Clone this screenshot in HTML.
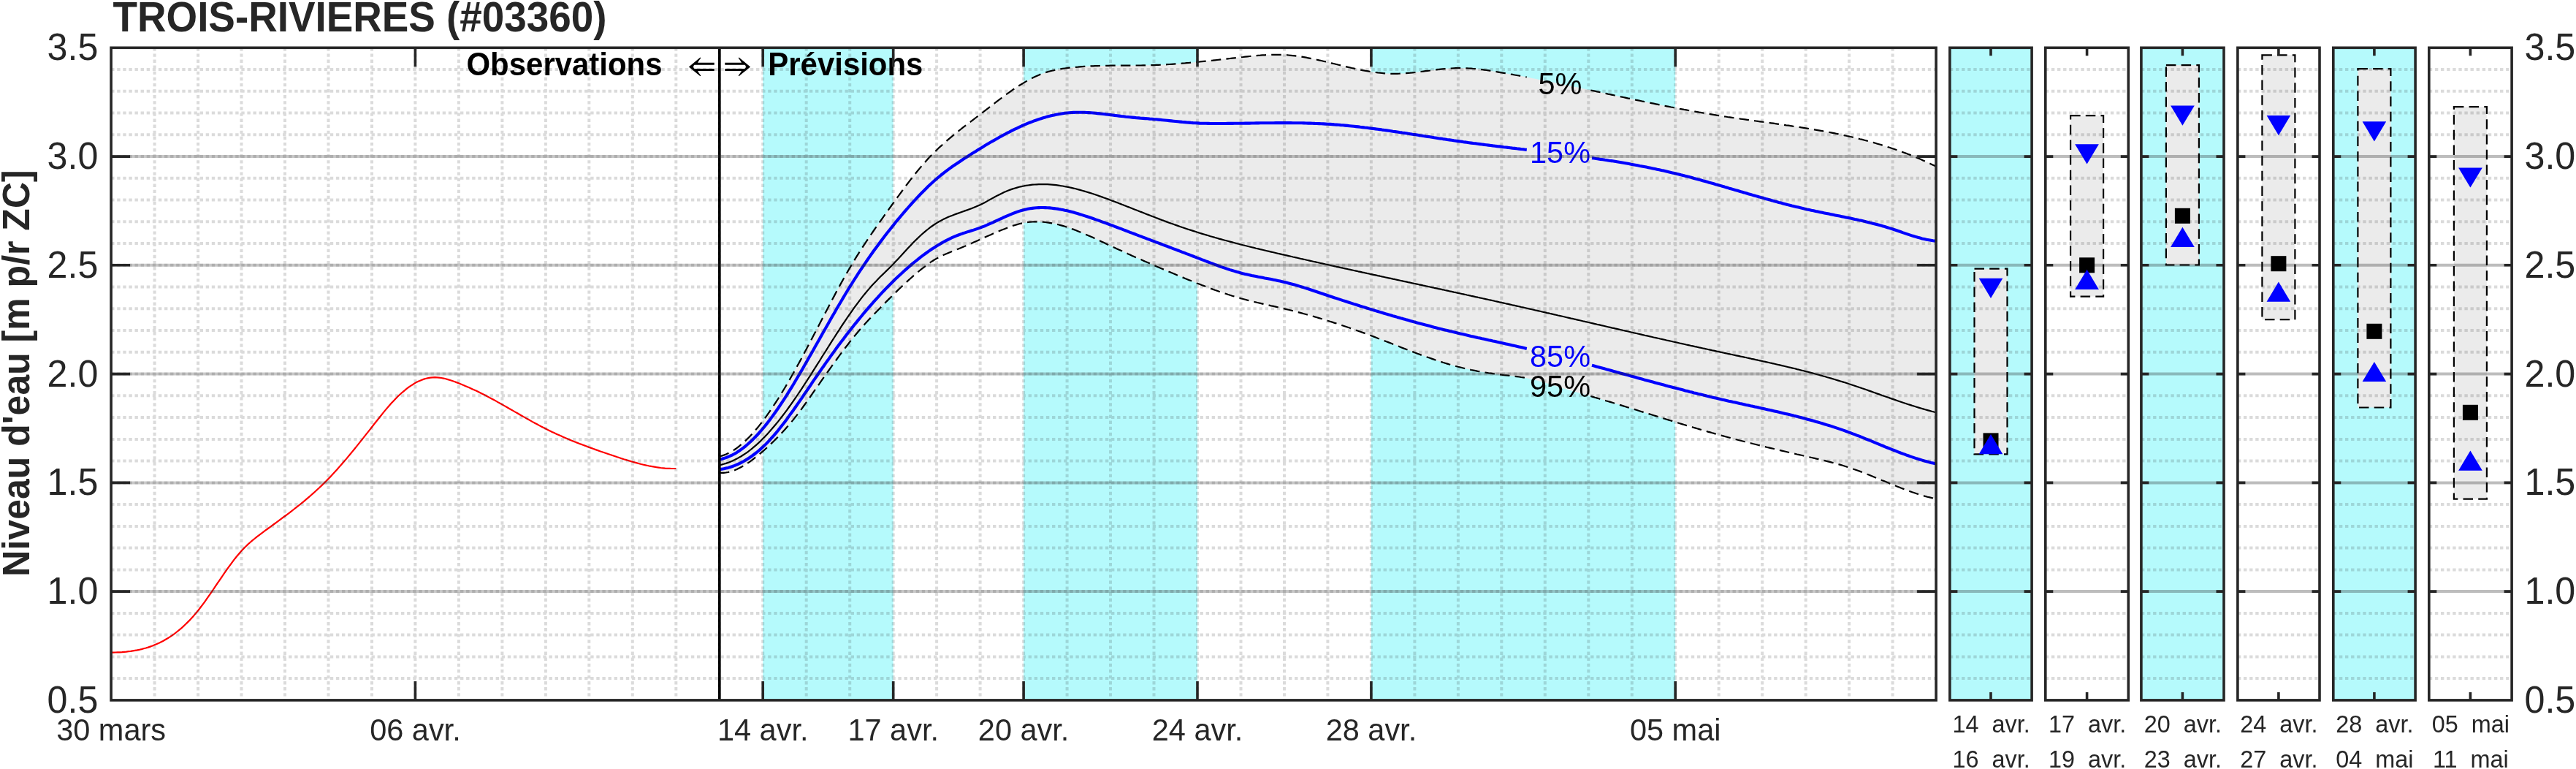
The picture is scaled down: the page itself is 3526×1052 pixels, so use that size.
<!DOCTYPE html><html><head><meta charset="utf-8"><title>TROIS-RIVIERES</title>
<style>html,body{margin:0;padding:0;background:#fff;overflow:hidden}svg{display:block;will-change:transform}text{font-family:"Liberation Sans",sans-serif}</style></head><body>
<svg width="3526" height="1052" viewBox="0 0 3526 1052">
<rect width="3526" height="1052" fill="#fff"/>
<rect x="1044.2" y="65.3" width="178.4" height="892.6" fill="#b5fafc"/>
<rect x="1401.1" y="65.3" width="237.9" height="892.6" fill="#b5fafc"/>
<rect x="1876.9" y="65.3" width="416.3" height="892.6" fill="#b5fafc"/>
<path d="M984.8,624.3 L987.7,623.6 L990.7,622.6 L993.7,621.5 L996.7,620.1 L999.6,618.6 L1002.6,616.9 L1005.6,615.0 L1008.6,612.9 L1011.5,610.6 L1014.5,608.2 L1017.5,605.7 L1020.4,602.9 L1023.4,600.0 L1026.4,597.0 L1029.4,593.8 L1032.3,590.5 L1035.3,587.0 L1038.3,583.4 L1041.3,579.6 L1044.2,575.8 L1047.2,571.8 L1050.2,567.7 L1053.2,563.4 L1056.1,559.1 L1059.1,554.7 L1062.1,550.1 L1065.1,545.5 L1068.0,540.7 L1071.0,535.9 L1074.0,531.0 L1077.0,525.9 L1079.9,520.9 L1082.9,515.7 L1085.9,510.5 L1088.8,505.1 L1091.8,499.8 L1094.8,494.4 L1097.8,488.9 L1100.7,483.3 L1103.7,477.7 L1106.7,472.1 L1109.7,466.5 L1112.6,460.8 L1115.6,455.1 L1118.6,449.3 L1121.6,443.6 L1124.5,437.9 L1127.5,432.1 L1130.5,426.4 L1133.5,420.7 L1136.4,415.1 L1139.4,409.4 L1142.4,403.9 L1145.3,398.3 L1148.3,392.8 L1151.3,387.4 L1154.3,382.0 L1157.2,376.8 L1160.2,371.6 L1163.2,366.5 L1166.2,361.4 L1169.1,356.5 L1172.1,351.7 L1175.1,346.9 L1178.1,342.3 L1181.0,337.7 L1184.0,333.1 L1187.0,328.6 L1190.0,324.2 L1192.9,319.8 L1195.9,315.5 L1198.9,311.2 L1201.9,307.0 L1204.8,302.8 L1207.8,298.6 L1210.8,294.4 L1213.7,290.3 L1216.7,286.1 L1219.7,282.0 L1222.7,277.9 L1225.6,273.7 L1228.6,269.6 L1231.6,265.6 L1234.6,261.5 L1237.5,257.5 L1240.5,253.5 L1243.5,249.6 L1246.5,245.7 L1249.4,241.9 L1252.4,238.2 L1255.4,234.5 L1258.4,230.9 L1261.3,227.4 L1264.3,223.9 L1267.3,220.6 L1270.2,217.3 L1273.2,214.1 L1276.2,211.1 L1279.2,208.1 L1282.1,205.2 L1285.1,202.3 L1288.1,199.6 L1291.1,196.9 L1294.0,194.2 L1297.0,191.6 L1300.0,189.1 L1303.0,186.6 L1305.9,184.2 L1308.9,181.7 L1311.9,179.4 L1314.9,177.0 L1317.8,174.7 L1320.8,172.4 L1323.8,170.1 L1326.8,167.8 L1329.7,165.6 L1332.7,163.3 L1335.7,161.0 L1338.6,158.8 L1341.6,156.5 L1344.6,154.2 L1347.6,151.9 L1350.5,149.6 L1353.5,147.3 L1356.5,145.0 L1359.5,142.7 L1362.4,140.4 L1365.4,138.1 L1368.4,135.8 L1371.4,133.6 L1374.3,131.4 L1377.3,129.2 L1380.3,127.1 L1383.3,125.0 L1386.2,122.9 L1389.2,120.9 L1392.2,118.9 L1395.1,117.0 L1398.1,115.2 L1401.1,113.4 L1404.1,111.6 L1407.0,109.9 L1410.0,108.3 L1413.0,106.8 L1416.0,105.3 L1418.9,104.0 L1421.9,102.7 L1424.9,101.4 L1427.9,100.3 L1430.8,99.3 L1433.8,98.4 L1436.8,97.5 L1439.8,96.7 L1442.7,96.1 L1445.7,95.4 L1448.7,94.9 L1451.7,94.4 L1454.6,93.9 L1457.6,93.5 L1460.6,93.1 L1463.5,92.7 L1466.5,92.4 L1469.5,92.1 L1472.5,91.8 L1475.4,91.6 L1478.4,91.3 L1481.4,91.1 L1484.4,90.9 L1487.3,90.7 L1490.3,90.6 L1493.3,90.4 L1496.3,90.3 L1499.2,90.2 L1502.2,90.1 L1505.2,90.0 L1508.2,89.9 L1511.1,89.9 L1514.1,89.8 L1517.1,89.8 L1520.0,89.7 L1523.0,89.7 L1526.0,89.7 L1529.0,89.7 L1531.9,89.6 L1534.9,89.6 L1537.9,89.6 L1540.9,89.6 L1543.8,89.6 L1546.8,89.6 L1549.8,89.6 L1552.8,89.5 L1555.7,89.5 L1558.7,89.5 L1561.7,89.5 L1564.7,89.4 L1567.6,89.4 L1570.6,89.3 L1573.6,89.2 L1576.6,89.1 L1579.5,89.1 L1582.5,88.9 L1585.5,88.8 L1588.4,88.7 L1591.4,88.5 L1594.4,88.4 L1597.4,88.2 L1600.3,88.0 L1603.3,87.8 L1606.3,87.6 L1609.3,87.4 L1612.2,87.2 L1615.2,87.0 L1618.2,86.7 L1621.2,86.5 L1624.1,86.2 L1627.1,86.0 L1630.1,85.7 L1633.1,85.4 L1636.0,85.1 L1639.0,84.8 L1642.0,84.5 L1644.9,84.2 L1647.9,83.9 L1650.9,83.6 L1653.9,83.3 L1656.8,83.0 L1659.8,82.7 L1662.8,82.3 L1665.8,82.0 L1668.7,81.7 L1671.7,81.3 L1674.7,81.0 L1677.7,80.7 L1680.6,80.3 L1683.6,80.0 L1686.6,79.6 L1689.6,79.3 L1692.5,79.0 L1695.5,78.6 L1698.5,78.3 L1701.4,78.0 L1704.4,77.6 L1707.4,77.3 L1710.4,77.0 L1713.3,76.7 L1716.3,76.4 L1719.3,76.1 L1722.3,75.9 L1725.2,75.7 L1728.2,75.4 L1731.2,75.3 L1734.2,75.1 L1737.1,75.0 L1740.1,74.9 L1743.1,74.8 L1746.1,74.8 L1749.0,74.8 L1752.0,74.8 L1755.0,74.9 L1758.0,75.1 L1760.9,75.2 L1763.9,75.5 L1766.9,75.8 L1769.8,76.1 L1772.8,76.4 L1775.8,76.8 L1778.8,77.2 L1781.7,77.7 L1784.7,78.2 L1787.7,78.7 L1790.7,79.3 L1793.6,79.9 L1796.6,80.5 L1799.6,81.1 L1802.6,81.7 L1805.5,82.4 L1808.5,83.0 L1811.5,83.7 L1814.5,84.4 L1817.4,85.1 L1820.4,85.9 L1823.4,86.6 L1826.3,87.3 L1829.3,88.0 L1832.3,88.8 L1835.3,89.5 L1838.2,90.2 L1841.2,90.9 L1844.2,91.6 L1847.2,92.3 L1850.1,93.0 L1853.1,93.6 L1856.1,94.3 L1859.1,94.9 L1862.0,95.5 L1865.0,96.1 L1868.0,96.7 L1871.0,97.2 L1873.9,97.7 L1876.9,98.2 L1879.9,98.6 L1882.9,99.0 L1885.8,99.4 L1888.8,99.7 L1891.8,100.0 L1894.7,100.3 L1897.7,100.5 L1900.7,100.6 L1903.7,100.8 L1906.6,100.8 L1909.6,100.8 L1912.6,100.8 L1915.6,100.7 L1918.5,100.5 L1921.5,100.4 L1924.5,100.2 L1927.5,99.9 L1930.4,99.7 L1933.4,99.4 L1936.4,99.0 L1939.4,98.7 L1942.3,98.3 L1945.3,98.0 L1948.3,97.6 L1951.2,97.2 L1954.2,96.8 L1957.2,96.5 L1960.2,96.1 L1963.1,95.7 L1966.1,95.4 L1969.1,95.0 L1972.1,94.7 L1975.0,94.4 L1978.0,94.1 L1981.0,93.9 L1984.0,93.6 L1986.9,93.5 L1989.9,93.3 L1992.9,93.2 L1995.9,93.1 L1998.8,93.1 L2001.8,93.2 L2004.8,93.3 L2007.8,93.4 L2010.7,93.5 L2013.7,93.7 L2016.7,94.0 L2019.6,94.2 L2022.6,94.5 L2025.6,94.9 L2028.6,95.2 L2031.5,95.6 L2034.5,96.0 L2037.5,96.4 L2040.5,96.9 L2043.4,97.4 L2046.4,97.8 L2049.4,98.3 L2052.4,98.8 L2055.3,99.3 L2058.3,99.8 L2061.3,100.3 L2064.3,100.9 L2067.2,101.4 L2070.2,101.9 L2073.2,102.5 L2076.1,103.0 L2079.1,103.5 L2082.1,104.1 L2085.1,104.6 L2088.0,105.2 L2091.0,105.8 L2094.0,106.3 L2097.0,106.9 L2099.9,107.5 L2102.9,108.1 L2105.9,108.7 L2108.9,109.2 L2111.8,109.8 L2114.8,110.4 L2117.8,111.0 L2120.8,111.6 L2123.7,112.2 L2126.7,112.8 L2129.7,113.4 L2132.7,114.0 L2135.6,114.7 L2138.6,115.3 L2141.6,115.9 L2144.5,116.5 L2147.5,117.1 L2150.5,117.8 L2153.5,118.4 L2156.4,119.0 L2159.4,119.6 L2162.4,120.3 L2165.4,120.9 L2168.3,121.5 L2171.3,122.2 L2174.3,122.8 L2177.3,123.5 L2180.2,124.1 L2183.2,124.7 L2186.2,125.4 L2189.2,126.0 L2192.1,126.6 L2195.1,127.3 L2198.1,127.9 L2201.0,128.6 L2204.0,129.2 L2207.0,129.8 L2210.0,130.5 L2212.9,131.1 L2215.9,131.7 L2218.9,132.4 L2221.9,133.0 L2224.8,133.6 L2227.8,134.3 L2230.8,134.9 L2233.8,135.5 L2236.7,136.2 L2239.7,136.8 L2242.7,137.4 L2245.7,138.0 L2248.6,138.7 L2251.6,139.3 L2254.6,139.9 L2257.6,140.5 L2260.5,141.1 L2263.5,141.7 L2266.5,142.3 L2269.4,142.9 L2272.4,143.5 L2275.4,144.1 L2278.4,144.7 L2281.3,145.3 L2284.3,145.9 L2287.3,146.5 L2290.3,147.0 L2293.2,147.6 L2296.2,148.2 L2299.2,148.8 L2302.2,149.3 L2305.1,149.9 L2308.1,150.4 L2311.1,151.0 L2314.1,151.5 L2317.0,152.1 L2320.0,152.6 L2323.0,153.1 L2325.9,153.7 L2328.9,154.2 L2331.9,154.7 L2334.9,155.2 L2337.8,155.7 L2340.8,156.2 L2343.8,156.7 L2346.8,157.2 L2349.7,157.7 L2352.7,158.1 L2355.7,158.6 L2358.7,159.1 L2361.6,159.5 L2364.6,160.0 L2367.6,160.4 L2370.6,160.8 L2373.5,161.3 L2376.5,161.7 L2379.5,162.1 L2382.5,162.6 L2385.4,163.0 L2388.4,163.4 L2391.4,163.8 L2394.3,164.2 L2397.3,164.6 L2400.3,165.1 L2403.3,165.5 L2406.2,165.9 L2409.2,166.3 L2412.2,166.7 L2415.2,167.1 L2418.1,167.5 L2421.1,167.9 L2424.1,168.3 L2427.1,168.7 L2430.0,169.2 L2433.0,169.6 L2436.0,170.0 L2439.0,170.4 L2441.9,170.8 L2444.9,171.3 L2447.9,171.7 L2450.8,172.1 L2453.8,172.6 L2456.8,173.0 L2459.8,173.5 L2462.7,173.9 L2465.7,174.4 L2468.7,174.8 L2471.7,175.3 L2474.6,175.8 L2477.6,176.3 L2480.6,176.8 L2483.6,177.3 L2486.5,177.8 L2489.5,178.3 L2492.5,178.8 L2495.5,179.4 L2498.4,179.9 L2501.4,180.5 L2504.4,181.0 L2507.3,181.6 L2510.3,182.2 L2513.3,182.8 L2516.3,183.4 L2519.2,184.0 L2522.2,184.7 L2525.2,185.3 L2528.2,186.0 L2531.1,186.6 L2534.1,187.3 L2537.1,188.0 L2540.1,188.7 L2543.0,189.4 L2546.0,190.2 L2549.0,190.9 L2552.0,191.7 L2554.9,192.5 L2557.9,193.3 L2560.9,194.1 L2563.9,194.9 L2566.8,195.8 L2569.8,196.7 L2572.8,197.5 L2575.7,198.4 L2578.7,199.4 L2581.7,200.3 L2584.7,201.3 L2587.6,202.2 L2590.6,203.2 L2593.6,204.2 L2596.6,205.3 L2599.5,206.3 L2602.5,207.4 L2605.5,208.5 L2608.5,209.6 L2611.4,210.8 L2614.4,211.9 L2617.4,213.1 L2620.4,214.3 L2623.3,215.6 L2626.3,216.8 L2629.3,218.1 L2632.2,219.4 L2635.2,220.7 L2638.2,222.1 L2641.2,223.5 L2644.1,224.9 L2647.1,226.3 L2650.1,227.7 L2650.1,682.4 L2647.1,681.8 L2644.1,681.1 L2641.2,680.4 L2638.2,679.7 L2635.2,678.9 L2632.2,678.0 L2629.3,677.1 L2626.3,676.2 L2623.3,675.3 L2620.4,674.3 L2617.4,673.3 L2614.4,672.2 L2611.4,671.1 L2608.5,670.0 L2605.5,668.9 L2602.5,667.8 L2599.5,666.6 L2596.6,665.4 L2593.6,664.2 L2590.6,663.0 L2587.6,661.8 L2584.7,660.6 L2581.7,659.3 L2578.7,658.1 L2575.7,656.9 L2572.8,655.6 L2569.8,654.4 L2566.8,653.2 L2563.9,652.0 L2560.9,650.8 L2557.9,649.6 L2554.9,648.4 L2552.0,647.2 L2549.0,646.0 L2546.0,644.9 L2543.0,643.8 L2540.1,642.7 L2537.1,641.7 L2534.1,640.6 L2531.1,639.6 L2528.2,638.7 L2525.2,637.7 L2522.2,636.8 L2519.2,635.9 L2516.3,635.1 L2513.3,634.2 L2510.3,633.4 L2507.3,632.6 L2504.4,631.9 L2501.4,631.1 L2498.4,630.4 L2495.5,629.7 L2492.5,628.9 L2489.5,628.2 L2486.5,627.6 L2483.6,626.9 L2480.6,626.2 L2477.6,625.5 L2474.6,624.8 L2471.7,624.2 L2468.7,623.5 L2465.7,622.8 L2462.7,622.1 L2459.8,621.5 L2456.8,620.8 L2453.8,620.1 L2450.8,619.4 L2447.9,618.7 L2444.9,618.0 L2441.9,617.3 L2439.0,616.6 L2436.0,615.9 L2433.0,615.2 L2430.0,614.5 L2427.1,613.8 L2424.1,613.1 L2421.1,612.4 L2418.1,611.7 L2415.2,611.0 L2412.2,610.2 L2409.2,609.5 L2406.2,608.8 L2403.3,608.0 L2400.3,607.3 L2397.3,606.5 L2394.3,605.8 L2391.4,605.0 L2388.4,604.3 L2385.4,603.5 L2382.5,602.7 L2379.5,602.0 L2376.5,601.2 L2373.5,600.4 L2370.6,599.6 L2367.6,598.8 L2364.6,598.0 L2361.6,597.2 L2358.7,596.4 L2355.7,595.6 L2352.7,594.8 L2349.7,594.0 L2346.8,593.1 L2343.8,592.3 L2340.8,591.4 L2337.8,590.6 L2334.9,589.7 L2331.9,588.9 L2328.9,588.0 L2325.9,587.1 L2323.0,586.3 L2320.0,585.4 L2317.0,584.5 L2314.1,583.6 L2311.1,582.7 L2308.1,581.9 L2305.1,581.0 L2302.2,580.1 L2299.2,579.2 L2296.2,578.3 L2293.2,577.4 L2290.3,576.5 L2287.3,575.5 L2284.3,574.6 L2281.3,573.7 L2278.4,572.8 L2275.4,571.9 L2272.4,571.0 L2269.4,570.0 L2266.5,569.1 L2263.5,568.2 L2260.5,567.3 L2257.6,566.4 L2254.6,565.4 L2251.6,564.5 L2248.6,563.6 L2245.7,562.7 L2242.7,561.8 L2239.7,560.8 L2236.7,559.9 L2233.8,559.0 L2230.8,558.1 L2227.8,557.2 L2224.8,556.3 L2221.9,555.4 L2218.9,554.4 L2215.9,553.5 L2212.9,552.6 L2210.0,551.7 L2207.0,550.8 L2204.0,549.9 L2201.0,549.0 L2198.1,548.2 L2195.1,547.3 L2192.1,546.4 L2189.2,545.5 L2186.2,544.6 L2183.2,543.8 L2180.2,542.9 L2177.3,542.0 L2174.3,541.2 L2171.3,540.3 L2168.3,539.5 L2165.4,538.6 L2162.4,537.8 L2159.4,536.9 L2156.4,536.1 L2153.5,535.2 L2150.5,534.4 L2147.5,533.5 L2144.5,532.6 L2141.6,531.8 L2138.6,530.9 L2135.6,530.0 L2132.7,529.1 L2129.7,528.2 L2126.7,527.2 L2123.7,526.3 L2120.8,525.4 L2117.8,524.5 L2114.8,523.6 L2111.8,522.8 L2108.9,521.9 L2105.9,521.1 L2102.9,520.3 L2099.9,519.5 L2097.0,518.8 L2094.0,518.2 L2091.0,517.5 L2088.0,517.0 L2085.1,516.4 L2082.1,516.0 L2079.1,515.5 L2076.1,515.1 L2073.2,514.8 L2070.2,514.4 L2067.2,514.1 L2064.3,513.7 L2061.3,513.4 L2058.3,513.1 L2055.3,512.7 L2052.4,512.4 L2049.4,512.0 L2046.4,511.6 L2043.4,511.2 L2040.5,510.7 L2037.5,510.3 L2034.5,509.8 L2031.5,509.3 L2028.6,508.8 L2025.6,508.3 L2022.6,507.8 L2019.6,507.2 L2016.7,506.6 L2013.7,506.0 L2010.7,505.3 L2007.8,504.7 L2004.8,504.0 L2001.8,503.3 L1998.8,502.5 L1995.9,501.8 L1992.9,501.0 L1989.9,500.2 L1986.9,499.3 L1984.0,498.5 L1981.0,497.6 L1978.0,496.7 L1975.0,495.8 L1972.1,494.8 L1969.1,493.9 L1966.1,492.9 L1963.1,491.9 L1960.2,490.9 L1957.2,489.8 L1954.2,488.8 L1951.2,487.7 L1948.3,486.6 L1945.3,485.6 L1942.3,484.5 L1939.4,483.4 L1936.4,482.2 L1933.4,481.1 L1930.4,480.0 L1927.5,478.8 L1924.5,477.7 L1921.5,476.6 L1918.5,475.4 L1915.6,474.2 L1912.6,473.1 L1909.6,471.9 L1906.6,470.8 L1903.7,469.6 L1900.7,468.4 L1897.7,467.3 L1894.7,466.1 L1891.8,465.0 L1888.8,463.8 L1885.8,462.7 L1882.9,461.5 L1879.9,460.4 L1876.9,459.3 L1873.9,458.2 L1871.0,457.0 L1868.0,455.9 L1865.0,454.9 L1862.0,453.8 L1859.1,452.7 L1856.1,451.7 L1853.1,450.6 L1850.1,449.6 L1847.2,448.5 L1844.2,447.5 L1841.2,446.5 L1838.2,445.5 L1835.3,444.5 L1832.3,443.5 L1829.3,442.5 L1826.3,441.6 L1823.4,440.6 L1820.4,439.7 L1817.4,438.8 L1814.5,437.8 L1811.5,436.9 L1808.5,436.0 L1805.5,435.1 L1802.6,434.2 L1799.6,433.4 L1796.6,432.5 L1793.6,431.7 L1790.7,430.8 L1787.7,430.0 L1784.7,429.2 L1781.7,428.4 L1778.8,427.6 L1775.8,426.8 L1772.8,426.0 L1769.8,425.3 L1766.9,424.5 L1763.9,423.8 L1760.9,423.1 L1758.0,422.4 L1755.0,421.7 L1752.0,421.0 L1749.0,420.3 L1746.1,419.6 L1743.1,418.9 L1740.1,418.3 L1737.1,417.6 L1734.2,416.9 L1731.2,416.3 L1728.2,415.6 L1725.2,414.9 L1722.3,414.2 L1719.3,413.5 L1716.3,412.8 L1713.3,412.1 L1710.4,411.3 L1707.4,410.6 L1704.4,409.8 L1701.4,409.0 L1698.5,408.2 L1695.5,407.3 L1692.5,406.5 L1689.6,405.6 L1686.6,404.7 L1683.6,403.7 L1680.6,402.8 L1677.7,401.8 L1674.7,400.8 L1671.7,399.8 L1668.7,398.8 L1665.8,397.7 L1662.8,396.7 L1659.8,395.6 L1656.8,394.5 L1653.9,393.4 L1650.9,392.3 L1647.9,391.1 L1644.9,390.0 L1642.0,388.8 L1639.0,387.7 L1636.0,386.5 L1633.1,385.3 L1630.1,384.1 L1627.1,382.9 L1624.1,381.7 L1621.2,380.5 L1618.2,379.2 L1615.2,378.0 L1612.2,376.8 L1609.3,375.5 L1606.3,374.3 L1603.3,373.0 L1600.3,371.8 L1597.4,370.5 L1594.4,369.3 L1591.4,368.0 L1588.4,366.7 L1585.5,365.5 L1582.5,364.2 L1579.5,362.9 L1576.6,361.6 L1573.6,360.3 L1570.6,359.0 L1567.6,357.8 L1564.7,356.5 L1561.7,355.1 L1558.7,353.8 L1555.7,352.5 L1552.8,351.2 L1549.8,349.9 L1546.8,348.5 L1543.8,347.2 L1540.9,345.8 L1537.9,344.5 L1534.9,343.1 L1531.9,341.8 L1529.0,340.4 L1526.0,339.0 L1523.0,337.7 L1520.0,336.3 L1517.1,334.9 L1514.1,333.5 L1511.1,332.1 L1508.2,330.7 L1505.2,329.3 L1502.2,327.9 L1499.2,326.5 L1496.3,325.1 L1493.3,323.8 L1490.3,322.5 L1487.3,321.2 L1484.4,319.9 L1481.4,318.6 L1478.4,317.4 L1475.4,316.2 L1472.5,315.0 L1469.5,313.9 L1466.5,312.8 L1463.5,311.8 L1460.6,310.8 L1457.6,309.8 L1454.6,308.9 L1451.7,308.1 L1448.7,307.3 L1445.7,306.6 L1442.7,306.0 L1439.8,305.4 L1436.8,304.8 L1433.8,304.4 L1430.8,304.0 L1427.9,303.7 L1424.9,303.5 L1421.9,303.4 L1418.9,303.3 L1416.0,303.3 L1413.0,303.5 L1410.0,303.7 L1407.0,304.0 L1404.1,304.4 L1401.1,304.9 L1398.1,305.6 L1395.1,306.3 L1392.2,307.1 L1389.2,308.0 L1386.2,308.9 L1383.3,310.0 L1380.3,311.0 L1377.3,312.2 L1374.3,313.4 L1371.4,314.6 L1368.4,315.8 L1365.4,317.1 L1362.4,318.3 L1359.5,319.6 L1356.5,321.0 L1353.5,322.3 L1350.5,323.6 L1347.6,324.9 L1344.6,326.3 L1341.6,327.6 L1338.6,329.0 L1335.7,330.3 L1332.7,331.6 L1329.7,333.0 L1326.8,334.3 L1323.8,335.6 L1320.8,336.8 L1317.8,338.1 L1314.9,339.3 L1311.9,340.5 L1308.9,341.7 L1305.9,342.9 L1303.0,344.0 L1300.0,345.2 L1297.0,346.4 L1294.0,347.7 L1291.1,349.0 L1288.1,350.5 L1285.1,352.0 L1282.1,353.6 L1279.2,355.3 L1276.2,357.2 L1273.2,359.2 L1270.2,361.3 L1267.3,363.5 L1264.3,365.8 L1261.3,368.1 L1258.4,370.5 L1255.4,373.0 L1252.4,375.6 L1249.4,378.1 L1246.5,380.8 L1243.5,383.4 L1240.5,386.2 L1237.5,388.9 L1234.6,391.7 L1231.6,394.5 L1228.6,397.4 L1225.6,400.3 L1222.7,403.2 L1219.7,406.2 L1216.7,409.1 L1213.7,412.1 L1210.8,415.2 L1207.8,418.2 L1204.8,421.2 L1201.9,424.2 L1198.9,427.3 L1195.9,430.4 L1192.9,433.5 L1190.0,436.6 L1187.0,439.8 L1184.0,443.1 L1181.0,446.4 L1178.1,449.8 L1175.1,453.3 L1172.1,456.8 L1169.1,460.4 L1166.2,464.1 L1163.2,467.8 L1160.2,471.7 L1157.2,475.5 L1154.3,479.4 L1151.3,483.4 L1148.3,487.4 L1145.3,491.5 L1142.4,495.5 L1139.4,499.7 L1136.4,503.8 L1133.5,508.0 L1130.5,512.2 L1127.5,516.4 L1124.5,520.6 L1121.6,524.9 L1118.6,529.1 L1115.6,533.4 L1112.6,537.6 L1109.7,541.9 L1106.7,546.1 L1103.7,550.3 L1100.7,554.5 L1097.8,558.6 L1094.8,562.6 L1091.8,566.6 L1088.8,570.4 L1085.9,574.1 L1082.9,577.7 L1079.9,581.2 L1077.0,584.6 L1074.0,588.0 L1071.0,591.2 L1068.0,594.4 L1065.1,597.5 L1062.1,600.5 L1059.1,603.5 L1056.1,606.4 L1053.2,609.2 L1050.2,612.0 L1047.2,614.7 L1044.2,617.4 L1041.3,619.9 L1038.3,622.4 L1035.3,624.8 L1032.3,627.2 L1029.4,629.4 L1026.4,631.6 L1023.4,633.6 L1020.4,635.5 L1017.5,637.4 L1014.5,639.1 L1011.5,640.6 L1008.6,642.0 L1005.6,643.3 L1002.6,644.4 L999.6,645.3 L996.7,646.0 L993.7,646.5 L990.7,646.8 L987.7,646.8 L984.8,646.7 Z" fill="#ebebeb"/>
<path d="M152.1,892.7 L155.1,892.6 L158.0,892.5 L161.0,892.4 L164.0,892.3 L167.0,892.1 L169.9,891.8 L172.9,891.6 L175.9,891.2 L178.9,890.9 L181.8,890.4 L184.8,889.9 L187.8,889.4 L190.8,888.8 L193.7,888.1 L196.7,887.3 L199.7,886.5 L202.7,885.6 L205.6,884.6 L208.6,883.5 L211.6,882.3 L214.5,881.1 L217.5,879.7 L220.5,878.2 L223.5,876.7 L226.4,875.0 L229.4,873.3 L232.4,871.4 L235.4,869.4 L238.3,867.3 L241.3,865.0 L244.3,862.7 L247.3,860.2 L250.2,857.6 L253.2,854.8 L256.2,851.9 L259.2,848.9 L262.1,845.7 L265.1,842.4 L268.1,838.9 L271.1,835.3 L274.0,831.5 L277.0,827.6 L280.0,823.6 L282.9,819.4 L285.9,815.2 L288.9,810.9 L291.9,806.5 L294.8,802.1 L297.8,797.7 L300.8,793.3 L303.8,789.0 L306.7,784.6 L309.7,780.4 L312.7,776.2 L315.7,772.1 L318.6,768.1 L321.6,764.2 L324.6,760.5 L327.6,757.0 L330.5,753.6 L333.5,750.4 L336.5,747.5 L339.4,744.6 L342.4,742.0 L345.4,739.4 L348.4,737.0 L351.3,734.6 L354.3,732.3 L357.3,730.1 L360.3,727.9 L363.2,725.7 L366.2,723.5 L369.2,721.3 L372.2,719.2 L375.1,717.0 L378.1,714.8 L381.1,712.6 L384.1,710.4 L387.0,708.2 L390.0,706.0 L393.0,703.8 L396.0,701.6 L398.9,699.3 L401.9,697.0 L404.9,694.7 L407.8,692.4 L410.8,690.0 L413.8,687.6 L416.8,685.1 L419.7,682.6 L422.7,680.1 L425.7,677.5 L428.7,674.9 L431.6,672.3 L434.6,669.5 L437.6,666.8 L440.6,663.9 L443.5,661.0 L446.5,658.1 L449.5,655.0 L452.5,651.9 L455.4,648.8 L458.4,645.5 L461.4,642.3 L464.3,638.9 L467.3,635.5 L470.3,632.1 L473.3,628.6 L476.2,625.1 L479.2,621.5 L482.2,617.9 L485.2,614.2 L488.1,610.6 L491.1,606.9 L494.1,603.1 L497.1,599.4 L500.0,595.6 L503.0,591.9 L506.0,588.1 L509.0,584.3 L511.9,580.5 L514.9,576.7 L517.9,573.0 L520.9,569.2 L523.8,565.6 L526.8,561.9 L529.8,558.4 L532.7,555.0 L535.7,551.6 L538.7,548.4 L541.7,545.3 L544.6,542.3 L547.6,539.5 L550.6,536.8 L553.6,534.3 L556.5,531.9 L559.5,529.7 L562.5,527.6 L565.5,525.7 L568.4,523.9 L571.4,522.3 L574.4,520.9 L577.4,519.7 L580.3,518.6 L583.3,517.8 L586.3,517.1 L589.2,516.6 L592.2,516.3 L595.2,516.2 L598.2,516.3 L601.1,516.6 L604.1,517.0 L607.1,517.6 L610.1,518.3 L613.0,519.1 L616.0,520.0 L619.0,521.0 L622.0,522.0 L624.9,523.1 L627.9,524.3 L630.9,525.5 L633.9,526.7 L636.8,528.0 L639.8,529.2 L642.8,530.5 L645.8,531.9 L648.7,533.2 L651.7,534.6 L654.7,536.0 L657.6,537.5 L660.6,539.0 L663.6,540.5 L666.6,542.0 L669.5,543.6 L672.5,545.2 L675.5,546.8 L678.5,548.4 L681.4,550.1 L684.4,551.7 L687.4,553.4 L690.4,555.1 L693.3,556.8 L696.3,558.5 L699.3,560.2 L702.3,561.9 L705.2,563.6 L708.2,565.3 L711.2,567.0 L714.1,568.7 L717.1,570.4 L720.1,572.1 L723.1,573.8 L726.0,575.4 L729.0,577.1 L732.0,578.7 L735.0,580.3 L737.9,581.9 L740.9,583.5 L743.9,585.0 L746.9,586.5 L749.8,588.0 L752.8,589.4 L755.8,590.9 L758.8,592.3 L761.7,593.7 L764.7,595.0 L767.7,596.3 L770.7,597.7 L773.6,598.9 L776.6,600.2 L779.6,601.4 L782.5,602.7 L785.5,603.9 L788.5,605.1 L791.5,606.2 L794.4,607.4 L797.4,608.5 L800.4,609.6 L803.4,610.8 L806.3,611.9 L809.3,612.9 L812.3,614.0 L815.3,615.1 L818.2,616.1 L821.2,617.2 L824.2,618.2 L827.2,619.2 L830.1,620.2 L833.1,621.3 L836.1,622.3 L839.0,623.3 L842.0,624.3 L845.0,625.3 L848.0,626.2 L850.9,627.2 L853.9,628.2 L856.9,629.1 L859.9,630.0 L862.8,630.9 L865.8,631.8 L868.8,632.6 L871.8,633.4 L874.7,634.2 L877.7,635.0 L880.7,635.7 L883.7,636.4 L886.6,637.0 L889.6,637.7 L892.6,638.2 L895.6,638.7 L898.5,639.2 L901.5,639.6 L904.5,640.0 L907.4,640.3 L910.4,640.6 L913.4,640.8 L916.4,640.9 L919.3,641.0 L922.3,641.0 L925.3,641.0" stroke="#ff0000" stroke-width="2.2" fill="none" stroke-linejoin="round"/>
<path d="M984.8,624.3 L987.7,623.6 L990.7,622.6 L993.7,621.5 L996.7,620.1 L999.6,618.6 L1002.6,616.9 L1005.6,615.0 L1008.6,612.9 L1011.5,610.6 L1014.5,608.2 L1017.5,605.7 L1020.4,602.9 L1023.4,600.0 L1026.4,597.0 L1029.4,593.8 L1032.3,590.5 L1035.3,587.0 L1038.3,583.4 L1041.3,579.6 L1044.2,575.8 L1047.2,571.8 L1050.2,567.7 L1053.2,563.4 L1056.1,559.1 L1059.1,554.7 L1062.1,550.1 L1065.1,545.5 L1068.0,540.7 L1071.0,535.9 L1074.0,531.0 L1077.0,525.9 L1079.9,520.9 L1082.9,515.7 L1085.9,510.5 L1088.8,505.1 L1091.8,499.8 L1094.8,494.4 L1097.8,488.9 L1100.7,483.3 L1103.7,477.7 L1106.7,472.1 L1109.7,466.5 L1112.6,460.8 L1115.6,455.1 L1118.6,449.3 L1121.6,443.6 L1124.5,437.9 L1127.5,432.1 L1130.5,426.4 L1133.5,420.7 L1136.4,415.1 L1139.4,409.4 L1142.4,403.9 L1145.3,398.3 L1148.3,392.8 L1151.3,387.4 L1154.3,382.0 L1157.2,376.8 L1160.2,371.6 L1163.2,366.5 L1166.2,361.4 L1169.1,356.5 L1172.1,351.7 L1175.1,346.9 L1178.1,342.3 L1181.0,337.7 L1184.0,333.1 L1187.0,328.6 L1190.0,324.2 L1192.9,319.8 L1195.9,315.5 L1198.9,311.2 L1201.9,307.0 L1204.8,302.8 L1207.8,298.6 L1210.8,294.4 L1213.7,290.3 L1216.7,286.1 L1219.7,282.0 L1222.7,277.9 L1225.6,273.7 L1228.6,269.6 L1231.6,265.6 L1234.6,261.5 L1237.5,257.5 L1240.5,253.5 L1243.5,249.6 L1246.5,245.7 L1249.4,241.9 L1252.4,238.2 L1255.4,234.5 L1258.4,230.9 L1261.3,227.4 L1264.3,223.9 L1267.3,220.6 L1270.2,217.3 L1273.2,214.1 L1276.2,211.1 L1279.2,208.1 L1282.1,205.2 L1285.1,202.3 L1288.1,199.6 L1291.1,196.9 L1294.0,194.2 L1297.0,191.6 L1300.0,189.1 L1303.0,186.6 L1305.9,184.2 L1308.9,181.7 L1311.9,179.4 L1314.9,177.0 L1317.8,174.7 L1320.8,172.4 L1323.8,170.1 L1326.8,167.8 L1329.7,165.6 L1332.7,163.3 L1335.7,161.0 L1338.6,158.8 L1341.6,156.5 L1344.6,154.2 L1347.6,151.9 L1350.5,149.6 L1353.5,147.3 L1356.5,145.0 L1359.5,142.7 L1362.4,140.4 L1365.4,138.1 L1368.4,135.8 L1371.4,133.6 L1374.3,131.4 L1377.3,129.2 L1380.3,127.1 L1383.3,125.0 L1386.2,122.9 L1389.2,120.9 L1392.2,118.9 L1395.1,117.0 L1398.1,115.2 L1401.1,113.4 L1404.1,111.6 L1407.0,109.9 L1410.0,108.3 L1413.0,106.8 L1416.0,105.3 L1418.9,104.0 L1421.9,102.7 L1424.9,101.4 L1427.9,100.3 L1430.8,99.3 L1433.8,98.4 L1436.8,97.5 L1439.8,96.7 L1442.7,96.1 L1445.7,95.4 L1448.7,94.9 L1451.7,94.4 L1454.6,93.9 L1457.6,93.5 L1460.6,93.1 L1463.5,92.7 L1466.5,92.4 L1469.5,92.1 L1472.5,91.8 L1475.4,91.6 L1478.4,91.3 L1481.4,91.1 L1484.4,90.9 L1487.3,90.7 L1490.3,90.6 L1493.3,90.4 L1496.3,90.3 L1499.2,90.2 L1502.2,90.1 L1505.2,90.0 L1508.2,89.9 L1511.1,89.9 L1514.1,89.8 L1517.1,89.8 L1520.0,89.7 L1523.0,89.7 L1526.0,89.7 L1529.0,89.7 L1531.9,89.6 L1534.9,89.6 L1537.9,89.6 L1540.9,89.6 L1543.8,89.6 L1546.8,89.6 L1549.8,89.6 L1552.8,89.5 L1555.7,89.5 L1558.7,89.5 L1561.7,89.5 L1564.7,89.4 L1567.6,89.4 L1570.6,89.3 L1573.6,89.2 L1576.6,89.1 L1579.5,89.1 L1582.5,88.9 L1585.5,88.8 L1588.4,88.7 L1591.4,88.5 L1594.4,88.4 L1597.4,88.2 L1600.3,88.0 L1603.3,87.8 L1606.3,87.6 L1609.3,87.4 L1612.2,87.2 L1615.2,87.0 L1618.2,86.7 L1621.2,86.5 L1624.1,86.2 L1627.1,86.0 L1630.1,85.7 L1633.1,85.4 L1636.0,85.1 L1639.0,84.8 L1642.0,84.5 L1644.9,84.2 L1647.9,83.9 L1650.9,83.6 L1653.9,83.3 L1656.8,83.0 L1659.8,82.7 L1662.8,82.3 L1665.8,82.0 L1668.7,81.7 L1671.7,81.3 L1674.7,81.0 L1677.7,80.7 L1680.6,80.3 L1683.6,80.0 L1686.6,79.6 L1689.6,79.3 L1692.5,79.0 L1695.5,78.6 L1698.5,78.3 L1701.4,78.0 L1704.4,77.6 L1707.4,77.3 L1710.4,77.0 L1713.3,76.7 L1716.3,76.4 L1719.3,76.1 L1722.3,75.9 L1725.2,75.7 L1728.2,75.4 L1731.2,75.3 L1734.2,75.1 L1737.1,75.0 L1740.1,74.9 L1743.1,74.8 L1746.1,74.8 L1749.0,74.8 L1752.0,74.8 L1755.0,74.9 L1758.0,75.1 L1760.9,75.2 L1763.9,75.5 L1766.9,75.8 L1769.8,76.1 L1772.8,76.4 L1775.8,76.8 L1778.8,77.2 L1781.7,77.7 L1784.7,78.2 L1787.7,78.7 L1790.7,79.3 L1793.6,79.9 L1796.6,80.5 L1799.6,81.1 L1802.6,81.7 L1805.5,82.4 L1808.5,83.0 L1811.5,83.7 L1814.5,84.4 L1817.4,85.1 L1820.4,85.9 L1823.4,86.6 L1826.3,87.3 L1829.3,88.0 L1832.3,88.8 L1835.3,89.5 L1838.2,90.2 L1841.2,90.9 L1844.2,91.6 L1847.2,92.3 L1850.1,93.0 L1853.1,93.6 L1856.1,94.3 L1859.1,94.9 L1862.0,95.5 L1865.0,96.1 L1868.0,96.7 L1871.0,97.2 L1873.9,97.7 L1876.9,98.2 L1879.9,98.6 L1882.9,99.0 L1885.8,99.4 L1888.8,99.7 L1891.8,100.0 L1894.7,100.3 L1897.7,100.5 L1900.7,100.6 L1903.7,100.8 L1906.6,100.8 L1909.6,100.8 L1912.6,100.8 L1915.6,100.7 L1918.5,100.5 L1921.5,100.4 L1924.5,100.2 L1927.5,99.9 L1930.4,99.7 L1933.4,99.4 L1936.4,99.0 L1939.4,98.7 L1942.3,98.3 L1945.3,98.0 L1948.3,97.6 L1951.2,97.2 L1954.2,96.8 L1957.2,96.5 L1960.2,96.1 L1963.1,95.7 L1966.1,95.4 L1969.1,95.0 L1972.1,94.7 L1975.0,94.4 L1978.0,94.1 L1981.0,93.9 L1984.0,93.6 L1986.9,93.5 L1989.9,93.3 L1992.9,93.2 L1995.9,93.1 L1998.8,93.1 L2001.8,93.2 L2004.8,93.3 L2007.8,93.4 L2010.7,93.5 L2013.7,93.7 L2016.7,94.0 L2019.6,94.2 L2022.6,94.5 L2025.6,94.9 L2028.6,95.2 L2031.5,95.6 L2034.5,96.0 L2037.5,96.4 L2040.5,96.9 L2043.4,97.4 L2046.4,97.8 L2049.4,98.3 L2052.4,98.8 L2055.3,99.3 L2058.3,99.8 L2061.3,100.3 L2064.3,100.9 L2067.2,101.4 L2070.2,101.9 L2073.2,102.5 L2076.1,103.0 L2079.1,103.5 L2082.1,104.1 L2085.1,104.6 L2088.0,105.2 L2089.8,105.5" stroke="#000" stroke-width="2.2" stroke-dasharray="13.5 7.2" fill="none"/>
<path d="M2177.3,123.5 L2180.2,124.1 L2183.2,124.7 L2186.2,125.4 L2189.2,126.0 L2192.1,126.6 L2195.1,127.3 L2198.1,127.9 L2201.0,128.6 L2204.0,129.2 L2207.0,129.8 L2210.0,130.5 L2212.9,131.1 L2215.9,131.7 L2218.9,132.4 L2221.9,133.0 L2224.8,133.6 L2227.8,134.3 L2230.8,134.9 L2233.8,135.5 L2236.7,136.2 L2239.7,136.8 L2242.7,137.4 L2245.7,138.0 L2248.6,138.7 L2251.6,139.3 L2254.6,139.9 L2257.6,140.5 L2260.5,141.1 L2263.5,141.7 L2266.5,142.3 L2269.4,142.9 L2272.4,143.5 L2275.4,144.1 L2278.4,144.7 L2281.3,145.3 L2284.3,145.9 L2287.3,146.5 L2290.3,147.0 L2293.2,147.6 L2296.2,148.2 L2299.2,148.8 L2302.2,149.3 L2305.1,149.9 L2308.1,150.4 L2311.1,151.0 L2314.1,151.5 L2317.0,152.1 L2320.0,152.6 L2323.0,153.1 L2325.9,153.7 L2328.9,154.2 L2331.9,154.7 L2334.9,155.2 L2337.8,155.7 L2340.8,156.2 L2343.8,156.7 L2346.8,157.2 L2349.7,157.7 L2352.7,158.1 L2355.7,158.6 L2358.7,159.1 L2361.6,159.5 L2364.6,160.0 L2367.6,160.4 L2370.6,160.8 L2373.5,161.3 L2376.5,161.7 L2379.5,162.1 L2382.4,162.6 L2385.4,163.0 L2388.4,163.4 L2391.4,163.8 L2394.3,164.2 L2397.3,164.6 L2400.3,165.1 L2403.3,165.5 L2406.2,165.9 L2409.2,166.3 L2412.2,166.7 L2415.2,167.1 L2418.1,167.5 L2421.1,167.9 L2424.1,168.3 L2427.1,168.7 L2430.0,169.2 L2433.0,169.6 L2436.0,170.0 L2439.0,170.4 L2441.9,170.8 L2444.9,171.3 L2447.9,171.7 L2450.8,172.1 L2453.8,172.6 L2456.8,173.0 L2459.8,173.5 L2462.7,173.9 L2465.7,174.4 L2468.7,174.8 L2471.7,175.3 L2474.6,175.8 L2477.6,176.3 L2480.6,176.8 L2483.6,177.3 L2486.5,177.8 L2489.5,178.3 L2492.5,178.8 L2495.5,179.4 L2498.4,179.9 L2501.4,180.5 L2504.4,181.0 L2507.3,181.6 L2510.3,182.2 L2513.3,182.8 L2516.3,183.4 L2519.2,184.0 L2522.2,184.7 L2525.2,185.3 L2528.2,186.0 L2531.1,186.6 L2534.1,187.3 L2537.1,188.0 L2540.1,188.7 L2543.0,189.4 L2546.0,190.2 L2549.0,190.9 L2552.0,191.7 L2554.9,192.5 L2557.9,193.3 L2560.9,194.1 L2563.9,194.9 L2566.8,195.8 L2569.8,196.7 L2572.8,197.5 L2575.7,198.4 L2578.7,199.4 L2581.7,200.3 L2584.7,201.3 L2587.6,202.2 L2590.6,203.2 L2593.6,204.2 L2596.6,205.3 L2599.5,206.3 L2602.5,207.4 L2605.5,208.5 L2608.5,209.6 L2611.4,210.8 L2614.4,211.9 L2617.4,213.1 L2620.4,214.3 L2623.3,215.6 L2626.3,216.8 L2629.3,218.1 L2632.2,219.4 L2635.2,220.7 L2638.2,222.1 L2641.2,223.5 L2644.1,224.9 L2647.1,226.3 L2650.1,227.7" stroke="#000" stroke-width="2.2" stroke-dasharray="13.5 7.2" fill="none"/>
<path d="M984.8,646.7 L987.7,646.8 L990.7,646.8 L993.7,646.5 L996.7,646.0 L999.6,645.3 L1002.6,644.4 L1005.6,643.3 L1008.6,642.0 L1011.5,640.6 L1014.5,639.1 L1017.5,637.4 L1020.4,635.5 L1023.4,633.6 L1026.4,631.6 L1029.4,629.4 L1032.3,627.2 L1035.3,624.8 L1038.3,622.4 L1041.3,619.9 L1044.2,617.4 L1047.2,614.7 L1050.2,612.0 L1053.2,609.2 L1056.1,606.4 L1059.1,603.5 L1062.1,600.5 L1065.1,597.5 L1068.0,594.4 L1071.0,591.2 L1074.0,588.0 L1077.0,584.6 L1079.9,581.2 L1082.9,577.7 L1085.9,574.1 L1088.8,570.4 L1091.8,566.6 L1094.8,562.6 L1097.8,558.6 L1100.7,554.5 L1103.7,550.3 L1106.7,546.1 L1109.7,541.9 L1112.6,537.6 L1115.6,533.4 L1118.6,529.1 L1121.6,524.9 L1124.5,520.6 L1127.5,516.4 L1130.5,512.2 L1133.5,508.0 L1136.4,503.8 L1139.4,499.7 L1142.4,495.5 L1145.3,491.5 L1148.3,487.4 L1151.3,483.4 L1154.3,479.4 L1157.2,475.5 L1160.2,471.7 L1163.2,467.8 L1166.2,464.1 L1169.1,460.4 L1172.1,456.8 L1175.1,453.3 L1178.1,449.8 L1181.0,446.4 L1184.0,443.1 L1187.0,439.8 L1190.0,436.6 L1192.9,433.5 L1195.9,430.4 L1198.9,427.3 L1201.9,424.2 L1204.8,421.2 L1207.8,418.2 L1210.8,415.2 L1213.7,412.1 L1216.7,409.1 L1219.7,406.2 L1222.7,403.2 L1225.6,400.3 L1228.6,397.4 L1231.6,394.5 L1234.6,391.7 L1237.5,388.9 L1240.5,386.2 L1243.5,383.4 L1246.5,380.8 L1249.4,378.1 L1252.4,375.6 L1255.4,373.0 L1258.4,370.5 L1261.3,368.1 L1264.3,365.8 L1267.3,363.5 L1270.2,361.3 L1273.2,359.2 L1276.2,357.2 L1279.2,355.3 L1282.1,353.6 L1285.1,352.0 L1288.1,350.5 L1291.1,349.0 L1294.0,347.7 L1297.0,346.4 L1300.0,345.2 L1303.0,344.0 L1305.9,342.9 L1308.9,341.7 L1311.9,340.5 L1314.9,339.3 L1317.8,338.1 L1320.8,336.8 L1323.8,335.6 L1326.8,334.3 L1329.7,333.0 L1332.7,331.6 L1335.7,330.3 L1338.6,329.0 L1341.6,327.6 L1344.6,326.3 L1347.6,324.9 L1350.5,323.6 L1353.5,322.3 L1356.5,321.0 L1359.5,319.6 L1362.4,318.3 L1365.4,317.1 L1368.4,315.8 L1371.4,314.6 L1374.3,313.4 L1377.3,312.2 L1380.3,311.0 L1383.3,310.0 L1386.2,308.9 L1389.2,308.0 L1392.2,307.1 L1395.1,306.3 L1398.1,305.6 L1401.1,304.9 L1404.1,304.4 L1407.0,304.0 L1410.0,303.7 L1413.0,303.5 L1416.0,303.3 L1418.9,303.3 L1421.9,303.4 L1424.9,303.5 L1427.9,303.7 L1430.8,304.0 L1433.8,304.4 L1436.8,304.8 L1439.8,305.4 L1442.7,306.0 L1445.7,306.6 L1448.7,307.3 L1451.7,308.1 L1454.6,308.9 L1457.6,309.8 L1460.6,310.8 L1463.5,311.8 L1466.5,312.8 L1469.5,313.9 L1472.5,315.0 L1475.4,316.2 L1478.4,317.4 L1481.4,318.6 L1484.4,319.9 L1487.3,321.2 L1490.3,322.5 L1493.3,323.8 L1496.3,325.1 L1499.2,326.5 L1502.2,327.9 L1505.2,329.3 L1508.2,330.7 L1511.1,332.1 L1514.1,333.5 L1517.1,334.9 L1520.0,336.3 L1523.0,337.7 L1526.0,339.0 L1529.0,340.4 L1531.9,341.8 L1534.9,343.1 L1537.9,344.5 L1540.9,345.8 L1543.8,347.2 L1546.8,348.5 L1549.8,349.9 L1552.8,351.2 L1555.7,352.5 L1558.7,353.8 L1561.7,355.1 L1564.7,356.5 L1567.6,357.8 L1570.6,359.0 L1573.6,360.3 L1576.6,361.6 L1579.5,362.9 L1582.5,364.2 L1585.5,365.5 L1588.4,366.7 L1591.4,368.0 L1594.4,369.3 L1597.4,370.5 L1600.3,371.8 L1603.3,373.0 L1606.3,374.3 L1609.3,375.5 L1612.2,376.8 L1615.2,378.0 L1618.2,379.2 L1621.2,380.5 L1624.1,381.7 L1627.1,382.9 L1630.1,384.1 L1633.1,385.3 L1636.0,386.5 L1639.0,387.7 L1642.0,388.8 L1644.9,390.0 L1647.9,391.1 L1650.9,392.3 L1653.9,393.4 L1656.8,394.5 L1659.8,395.6 L1662.8,396.7 L1665.8,397.7 L1668.7,398.8 L1671.7,399.8 L1674.7,400.8 L1677.7,401.8 L1680.6,402.8 L1683.6,403.7 L1686.6,404.7 L1689.6,405.6 L1692.5,406.5 L1695.5,407.3 L1698.5,408.2 L1701.4,409.0 L1704.4,409.8 L1707.4,410.6 L1710.4,411.3 L1713.3,412.1 L1716.3,412.8 L1719.3,413.5 L1722.3,414.2 L1725.2,414.9 L1728.2,415.6 L1731.2,416.3 L1734.2,416.9 L1737.1,417.6 L1740.1,418.3 L1743.1,418.9 L1746.1,419.6 L1749.0,420.3 L1752.0,421.0 L1755.0,421.7 L1758.0,422.4 L1760.9,423.1 L1763.9,423.8 L1766.9,424.5 L1769.8,425.3 L1772.8,426.0 L1775.8,426.8 L1778.8,427.6 L1781.7,428.4 L1784.7,429.2 L1787.7,430.0 L1790.7,430.8 L1793.6,431.7 L1796.6,432.5 L1799.6,433.4 L1802.6,434.2 L1805.5,435.1 L1808.5,436.0 L1811.5,436.9 L1814.5,437.8 L1817.4,438.8 L1820.4,439.7 L1823.4,440.6 L1826.3,441.6 L1829.3,442.5 L1832.3,443.5 L1835.3,444.5 L1838.2,445.5 L1841.2,446.5 L1844.2,447.5 L1847.2,448.5 L1850.1,449.6 L1853.1,450.6 L1856.1,451.7 L1859.1,452.7 L1862.0,453.8 L1865.0,454.9 L1868.0,455.9 L1871.0,457.0 L1873.9,458.2 L1876.9,459.3 L1879.9,460.4 L1882.9,461.5 L1885.8,462.7 L1888.8,463.8 L1891.8,465.0 L1894.7,466.1 L1897.7,467.3 L1900.7,468.4 L1903.7,469.6 L1906.6,470.8 L1909.6,471.9 L1912.6,473.1 L1915.6,474.2 L1918.5,475.4 L1921.5,476.6 L1924.5,477.7 L1927.5,478.8 L1930.4,480.0 L1933.4,481.1 L1936.4,482.2 L1939.4,483.4 L1942.3,484.5 L1945.3,485.6 L1948.3,486.6 L1951.2,487.7 L1954.2,488.8 L1957.2,489.8 L1960.2,490.9 L1963.1,491.9 L1966.1,492.9 L1969.1,493.9 L1972.1,494.8 L1975.0,495.8 L1978.0,496.7 L1981.0,497.6 L1984.0,498.5 L1986.9,499.3 L1989.9,500.2 L1992.9,501.0 L1995.9,501.8 L1998.8,502.5 L2001.8,503.3 L2004.8,504.0 L2007.8,504.7 L2010.7,505.3 L2013.7,506.0 L2016.7,506.6 L2019.6,507.2 L2022.6,507.8 L2025.6,508.3 L2028.6,508.8 L2031.5,509.3 L2034.5,509.8 L2037.5,510.3 L2040.5,510.7 L2043.4,511.2 L2046.4,511.6 L2049.4,512.0 L2052.4,512.4 L2055.3,512.7 L2058.3,513.1 L2061.3,513.4 L2064.3,513.7 L2067.2,514.1 L2070.2,514.4 L2073.2,514.8 L2076.1,515.1 L2079.1,515.5 L2082.1,516.0 L2085.1,516.4 L2088.0,517.0 L2089.8,517.3" stroke="#000" stroke-width="2.2" stroke-dasharray="13.5 7.2" fill="none"/>
<path d="M2177.3,542.0 L2180.2,542.9 L2183.2,543.8 L2186.2,544.6 L2189.2,545.5 L2192.1,546.4 L2195.1,547.3 L2198.1,548.2 L2201.0,549.0 L2204.0,549.9 L2207.0,550.8 L2210.0,551.7 L2212.9,552.6 L2215.9,553.5 L2218.9,554.4 L2221.9,555.4 L2224.8,556.3 L2227.8,557.2 L2230.8,558.1 L2233.8,559.0 L2236.7,559.9 L2239.7,560.8 L2242.7,561.8 L2245.7,562.7 L2248.6,563.6 L2251.6,564.5 L2254.6,565.4 L2257.6,566.4 L2260.5,567.3 L2263.5,568.2 L2266.5,569.1 L2269.4,570.0 L2272.4,571.0 L2275.4,571.9 L2278.4,572.8 L2281.3,573.7 L2284.3,574.6 L2287.3,575.5 L2290.3,576.5 L2293.2,577.4 L2296.2,578.3 L2299.2,579.2 L2302.2,580.1 L2305.1,581.0 L2308.1,581.9 L2311.1,582.7 L2314.1,583.6 L2317.0,584.5 L2320.0,585.4 L2323.0,586.3 L2325.9,587.1 L2328.9,588.0 L2331.9,588.9 L2334.9,589.7 L2337.8,590.6 L2340.8,591.4 L2343.8,592.3 L2346.8,593.1 L2349.7,594.0 L2352.7,594.8 L2355.7,595.6 L2358.7,596.4 L2361.6,597.2 L2364.6,598.0 L2367.6,598.8 L2370.6,599.6 L2373.5,600.4 L2376.5,601.2 L2379.5,602.0 L2382.4,602.7 L2385.4,603.5 L2388.4,604.3 L2391.4,605.0 L2394.3,605.8 L2397.3,606.5 L2400.3,607.3 L2403.3,608.0 L2406.2,608.8 L2409.2,609.5 L2412.2,610.2 L2415.2,611.0 L2418.1,611.7 L2421.1,612.4 L2424.1,613.1 L2427.1,613.8 L2430.0,614.5 L2433.0,615.2 L2436.0,615.9 L2439.0,616.6 L2441.9,617.3 L2444.9,618.0 L2447.9,618.7 L2450.8,619.4 L2453.8,620.1 L2456.8,620.8 L2459.8,621.5 L2462.7,622.1 L2465.7,622.8 L2468.7,623.5 L2471.7,624.2 L2474.6,624.8 L2477.6,625.5 L2480.6,626.2 L2483.6,626.9 L2486.5,627.6 L2489.5,628.2 L2492.5,628.9 L2495.5,629.7 L2498.4,630.4 L2501.4,631.1 L2504.4,631.9 L2507.3,632.6 L2510.3,633.4 L2513.3,634.2 L2516.3,635.1 L2519.2,635.9 L2522.2,636.8 L2525.2,637.7 L2528.2,638.7 L2531.1,639.6 L2534.1,640.6 L2537.1,641.7 L2540.1,642.7 L2543.0,643.8 L2546.0,644.9 L2549.0,646.0 L2552.0,647.2 L2554.9,648.4 L2557.9,649.6 L2560.9,650.8 L2563.9,652.0 L2566.8,653.2 L2569.8,654.4 L2572.8,655.6 L2575.7,656.9 L2578.7,658.1 L2581.7,659.3 L2584.7,660.6 L2587.6,661.8 L2590.6,663.0 L2593.6,664.2 L2596.6,665.4 L2599.5,666.6 L2602.5,667.8 L2605.5,668.9 L2608.5,670.0 L2611.4,671.1 L2614.4,672.2 L2617.4,673.3 L2620.4,674.3 L2623.3,675.3 L2626.3,676.2 L2629.3,677.1 L2632.2,678.0 L2635.2,678.9 L2638.2,679.7 L2641.2,680.4 L2644.1,681.1 L2647.1,681.8 L2650.1,682.4" stroke="#000" stroke-width="2.2" stroke-dasharray="13.5 7.2" fill="none"/>
<path d="M984.8,628.5 L987.7,627.9 L990.7,627.1 L993.7,626.1 L996.7,625.0 L999.6,623.7 L1002.6,622.3 L1005.6,620.7 L1008.6,618.9 L1011.5,617.0 L1014.5,614.9 L1017.5,612.7 L1020.4,610.3 L1023.4,607.8 L1026.4,605.1 L1029.4,602.3 L1032.3,599.3 L1035.3,596.3 L1038.3,593.0 L1041.3,589.7 L1044.2,586.2 L1047.2,582.6 L1050.2,578.9 L1053.2,575.1 L1056.1,571.1 L1059.1,567.0 L1062.1,562.8 L1065.1,558.5 L1068.0,554.1 L1071.0,549.6 L1074.0,545.1 L1077.0,540.4 L1079.9,535.6 L1082.9,530.8 L1085.9,526.0 L1088.8,521.0 L1091.8,516.0 L1094.8,511.0 L1097.8,505.9 L1100.7,500.7 L1103.7,495.5 L1106.7,490.3 L1109.7,485.1 L1112.6,479.9 L1115.6,474.6 L1118.6,469.3 L1121.6,464.1 L1124.5,458.8 L1127.5,453.5 L1130.5,448.3 L1133.5,443.0 L1136.4,437.8 L1139.4,432.6 L1142.4,427.4 L1145.3,422.3 L1148.3,417.2 L1151.3,412.2 L1154.3,407.1 L1157.2,402.2 L1160.2,397.3 L1163.2,392.4 L1166.2,387.7 L1169.1,383.0 L1172.1,378.3 L1175.1,373.7 L1178.1,369.2 L1181.0,364.8 L1184.0,360.4 L1187.0,356.0 L1190.0,351.7 L1192.9,347.5 L1195.9,343.3 L1198.9,339.2 L1201.9,335.2 L1204.8,331.2 L1207.8,327.2 L1210.8,323.3 L1213.7,319.5 L1216.7,315.7 L1219.7,311.9 L1222.7,308.2 L1225.6,304.5 L1228.6,300.9 L1231.6,297.4 L1234.6,293.8 L1237.5,290.4 L1240.5,286.9 L1243.5,283.5 L1246.5,280.2 L1249.4,276.9 L1252.4,273.6 L1255.4,270.4 L1258.4,267.3 L1261.3,264.2 L1264.3,261.2 L1267.3,258.2 L1270.2,255.3 L1273.2,252.5 L1276.2,249.8 L1279.2,247.1 L1282.1,244.5 L1285.1,242.0 L1288.1,239.5 L1291.1,237.2 L1294.0,234.9 L1297.0,232.6 L1300.0,230.4 L1303.0,228.3 L1305.9,226.2 L1308.9,224.2 L1311.9,222.2 L1314.9,220.2 L1317.8,218.2 L1320.8,216.3 L1323.8,214.4 L1326.8,212.5 L1329.7,210.6 L1332.7,208.8 L1335.7,206.9 L1338.6,205.1 L1341.6,203.2 L1344.6,201.4 L1347.6,199.6 L1350.5,197.8 L1353.5,196.0 L1356.5,194.3 L1359.5,192.6 L1362.4,190.9 L1365.4,189.2 L1368.4,187.5 L1371.4,185.9 L1374.3,184.3 L1377.3,182.7 L1380.3,181.2 L1383.3,179.6 L1386.2,178.1 L1389.2,176.7 L1392.2,175.3 L1395.1,173.9 L1398.1,172.5 L1401.1,171.2 L1404.1,169.9 L1407.0,168.7 L1410.0,167.5 L1413.0,166.4 L1416.0,165.2 L1418.9,164.2 L1421.9,163.1 L1424.9,162.2 L1427.9,161.2 L1430.8,160.4 L1433.8,159.5 L1436.8,158.8 L1439.8,158.0 L1442.7,157.4 L1445.7,156.7 L1448.7,156.2 L1451.7,155.7 L1454.6,155.2 L1457.6,154.8 L1460.6,154.5 L1463.5,154.2 L1466.5,154.0 L1469.5,153.9 L1472.5,153.8 L1475.4,153.7 L1478.4,153.7 L1481.4,153.8 L1484.4,153.8 L1487.3,154.0 L1490.3,154.1 L1493.3,154.3 L1496.3,154.5 L1499.2,154.8 L1502.2,155.1 L1505.2,155.4 L1508.2,155.7 L1511.1,156.0 L1514.1,156.4 L1517.1,156.7 L1520.0,157.1 L1523.0,157.5 L1526.0,157.9 L1529.0,158.2 L1531.9,158.6 L1534.9,159.0 L1537.9,159.3 L1540.9,159.7 L1543.8,160.0 L1546.8,160.3 L1549.8,160.6 L1552.8,160.9 L1555.7,161.2 L1558.7,161.4 L1561.7,161.7 L1564.7,161.9 L1567.6,162.1 L1570.6,162.3 L1573.6,162.6 L1576.6,162.8 L1579.5,163.1 L1582.5,163.3 L1585.5,163.6 L1588.4,163.9 L1591.4,164.2 L1594.4,164.5 L1597.4,164.8 L1600.3,165.1 L1603.3,165.4 L1606.3,165.7 L1609.3,166.0 L1612.2,166.3 L1615.2,166.6 L1618.2,166.9 L1621.2,167.1 L1624.1,167.4 L1627.1,167.6 L1630.1,167.9 L1633.1,168.1 L1636.0,168.2 L1639.0,168.4 L1642.0,168.6 L1644.9,168.7 L1647.9,168.8 L1650.9,168.8 L1653.9,168.9 L1656.8,169.0 L1659.8,169.0 L1662.8,169.0 L1665.8,169.0 L1668.7,169.0 L1671.7,169.0 L1674.7,169.0 L1677.7,169.0 L1680.6,168.9 L1683.6,168.9 L1686.6,168.9 L1689.6,168.8 L1692.5,168.8 L1695.5,168.8 L1698.5,168.7 L1701.4,168.7 L1704.4,168.6 L1707.4,168.6 L1710.4,168.6 L1713.3,168.5 L1716.3,168.5 L1719.3,168.4 L1722.3,168.4 L1725.2,168.3 L1728.2,168.3 L1731.2,168.3 L1734.2,168.2 L1737.1,168.2 L1740.1,168.2 L1743.1,168.2 L1746.1,168.1 L1749.0,168.1 L1752.0,168.1 L1755.0,168.1 L1758.0,168.1 L1760.9,168.1 L1763.9,168.1 L1766.9,168.1 L1769.8,168.2 L1772.8,168.2 L1775.8,168.2 L1778.8,168.3 L1781.7,168.3 L1784.7,168.4 L1787.7,168.5 L1790.7,168.6 L1793.6,168.6 L1796.6,168.7 L1799.6,168.9 L1802.6,169.0 L1805.5,169.1 L1808.5,169.3 L1811.5,169.4 L1814.5,169.6 L1817.4,169.8 L1820.4,169.9 L1823.4,170.1 L1826.3,170.4 L1829.3,170.6 L1832.3,170.8 L1835.3,171.1 L1838.2,171.3 L1841.2,171.6 L1844.2,171.9 L1847.2,172.2 L1850.1,172.5 L1853.1,172.8 L1856.1,173.1 L1859.1,173.4 L1862.0,173.8 L1865.0,174.1 L1868.0,174.5 L1871.0,174.8 L1873.9,175.2 L1876.9,175.6 L1879.9,176.0 L1882.9,176.4 L1885.8,176.7 L1888.8,177.1 L1891.8,177.6 L1894.7,178.0 L1897.7,178.4 L1900.7,178.8 L1903.7,179.2 L1906.6,179.7 L1909.6,180.1 L1912.6,180.5 L1915.6,181.0 L1918.5,181.4 L1921.5,181.9 L1924.5,182.3 L1927.5,182.8 L1930.4,183.2 L1933.4,183.7 L1936.4,184.1 L1939.4,184.6 L1942.3,185.1 L1945.3,185.5 L1948.3,186.0 L1951.2,186.4 L1954.2,186.9 L1957.2,187.3 L1960.2,187.8 L1963.1,188.3 L1966.1,188.7 L1969.1,189.2 L1972.1,189.6 L1975.0,190.1 L1978.0,190.5 L1981.0,191.0 L1984.0,191.4 L1986.9,191.8 L1989.9,192.3 L1992.9,192.7 L1995.9,193.1 L1998.8,193.5 L2001.8,193.9 L2004.8,194.4 L2007.8,194.8 L2010.7,195.2 L2013.7,195.6 L2016.7,196.0 L2019.6,196.3 L2022.6,196.7 L2025.6,197.1 L2028.6,197.5 L2031.5,197.9 L2034.5,198.2 L2037.5,198.6 L2040.5,199.0 L2043.4,199.4 L2046.4,199.7 L2049.4,200.1 L2052.4,200.4 L2055.3,200.8 L2058.3,201.2 L2061.3,201.5 L2064.3,201.9 L2067.2,202.2 L2070.2,202.6 L2073.2,202.9 L2076.1,203.3 L2079.1,203.6 L2082.1,204.0 L2085.1,204.3 L2088.0,204.7 L2089.8,204.9" stroke="#0000ff" stroke-width="4.1" fill="none" stroke-linejoin="round"/>
<path d="M2179.0,216.1 L2182.0,216.5 L2185.0,217.0 L2188.0,217.4 L2190.9,217.9 L2193.9,218.3 L2196.9,218.8 L2199.9,219.2 L2202.8,219.7 L2205.8,220.1 L2208.8,220.6 L2211.8,221.1 L2214.7,221.6 L2217.7,222.1 L2220.7,222.6 L2223.6,223.1 L2226.6,223.6 L2229.6,224.1 L2232.6,224.7 L2235.5,225.2 L2238.5,225.7 L2241.5,226.3 L2244.5,226.9 L2247.4,227.4 L2250.4,228.0 L2253.4,228.6 L2256.4,229.2 L2259.3,229.8 L2262.3,230.4 L2265.3,231.0 L2268.3,231.7 L2271.2,232.3 L2274.2,233.0 L2277.2,233.6 L2280.2,234.3 L2283.1,235.0 L2286.1,235.7 L2289.1,236.4 L2292.0,237.1 L2295.0,237.8 L2298.0,238.5 L2301.0,239.3 L2303.9,240.0 L2306.9,240.8 L2309.9,241.5 L2312.9,242.3 L2315.8,243.1 L2318.8,243.9 L2321.8,244.7 L2324.8,245.5 L2327.7,246.3 L2330.7,247.2 L2333.7,248.0 L2336.7,248.8 L2339.6,249.7 L2342.6,250.5 L2345.6,251.3 L2348.5,252.2 L2351.5,253.0 L2354.5,253.9 L2357.5,254.8 L2360.4,255.6 L2363.4,256.5 L2366.4,257.4 L2369.4,258.2 L2372.3,259.1 L2375.3,260.0 L2378.3,260.8 L2381.3,261.7 L2384.2,262.6 L2387.2,263.4 L2390.2,264.3 L2393.2,265.2 L2396.1,266.0 L2399.1,266.9 L2402.1,267.7 L2405.1,268.6 L2408.0,269.4 L2411.0,270.3 L2414.0,271.1 L2416.9,272.0 L2419.9,272.8 L2422.9,273.6 L2425.9,274.4 L2428.8,275.3 L2431.8,276.1 L2434.8,276.9 L2437.8,277.6 L2440.7,278.4 L2443.7,279.2 L2446.7,280.0 L2449.7,280.7 L2452.6,281.5 L2455.6,282.2 L2458.6,282.9 L2461.6,283.6 L2464.5,284.3 L2467.5,285.0 L2470.5,285.7 L2473.4,286.4 L2476.4,287.0 L2479.4,287.7 L2482.4,288.3 L2485.3,289.0 L2488.3,289.6 L2491.3,290.2 L2494.3,290.8 L2497.2,291.4 L2500.2,292.0 L2503.2,292.6 L2506.2,293.2 L2509.1,293.8 L2512.1,294.4 L2515.1,295.0 L2518.1,295.6 L2521.0,296.2 L2524.0,296.8 L2527.0,297.4 L2530.0,298.0 L2532.9,298.6 L2535.9,299.2 L2538.9,299.9 L2541.8,300.5 L2544.8,301.2 L2547.8,301.8 L2550.8,302.5 L2553.7,303.2 L2556.7,303.9 L2559.7,304.7 L2562.7,305.4 L2565.6,306.2 L2568.6,307.0 L2571.6,307.8 L2574.6,308.6 L2577.5,309.4 L2580.5,310.3 L2583.5,311.2 L2586.5,312.1 L2589.4,313.0 L2592.4,314.0 L2595.4,315.0 L2598.3,316.0 L2601.3,317.0 L2604.3,318.1 L2607.3,319.1 L2610.2,320.1 L2613.2,321.1 L2616.2,322.1 L2619.2,323.0 L2622.1,323.9 L2625.1,324.8 L2628.1,325.6 L2631.1,326.4 L2634.0,327.1 L2637.0,327.8 L2640.0,328.3 L2643.0,328.8 L2645.9,329.3 L2648.9,329.6 L2650.1,329.7" stroke="#0000ff" stroke-width="4.1" fill="none" stroke-linejoin="round"/>
<path d="M984.8,642.3 L987.7,641.8 L990.7,641.3 L993.7,640.6 L996.7,639.9 L999.6,639.0 L1002.6,638.0 L1005.6,636.9 L1008.6,635.7 L1011.5,634.3 L1014.5,632.9 L1017.5,631.3 L1020.4,629.6 L1023.4,627.7 L1026.4,625.8 L1029.4,623.7 L1032.3,621.5 L1035.3,619.2 L1038.3,616.7 L1041.3,614.1 L1044.2,611.4 L1047.2,608.6 L1050.2,605.6 L1053.2,602.5 L1056.1,599.2 L1059.1,595.9 L1062.1,592.4 L1065.1,588.8 L1068.0,585.1 L1071.0,581.3 L1074.0,577.4 L1077.0,573.5 L1079.9,569.4 L1082.9,565.3 L1085.9,561.2 L1088.8,557.0 L1091.8,552.7 L1094.8,548.4 L1097.8,544.1 L1100.7,539.7 L1103.7,535.4 L1106.7,531.0 L1109.7,526.6 L1112.6,522.2 L1115.6,517.9 L1118.6,513.5 L1121.6,509.2 L1124.5,504.9 L1127.5,500.7 L1130.5,496.4 L1133.5,492.3 L1136.4,488.1 L1139.4,484.0 L1142.4,479.9 L1145.3,475.8 L1148.3,471.8 L1151.3,467.8 L1154.3,463.9 L1157.2,460.0 L1160.2,456.1 L1163.2,452.3 L1166.2,448.5 L1169.1,444.8 L1172.1,441.1 L1175.1,437.4 L1178.1,433.8 L1181.0,430.2 L1184.0,426.7 L1187.0,423.2 L1190.0,419.7 L1192.9,416.3 L1195.9,412.9 L1198.9,409.6 L1201.9,406.4 L1204.8,403.1 L1207.8,399.9 L1210.8,396.8 L1213.7,393.7 L1216.7,390.7 L1219.7,387.7 L1222.7,384.7 L1225.6,381.8 L1228.6,379.0 L1231.6,376.2 L1234.6,373.4 L1237.5,370.7 L1240.5,368.1 L1243.5,365.5 L1246.5,362.9 L1249.4,360.4 L1252.4,358.0 L1255.4,355.6 L1258.4,353.2 L1261.3,350.9 L1264.3,348.7 L1267.3,346.5 L1270.2,344.4 L1273.2,342.3 L1276.2,340.3 L1279.2,338.4 L1282.1,336.5 L1285.1,334.7 L1288.1,332.9 L1291.1,331.2 L1294.0,329.6 L1297.0,328.1 L1300.0,326.6 L1303.0,325.2 L1305.9,323.9 L1308.9,322.6 L1311.9,321.5 L1314.9,320.4 L1317.8,319.3 L1320.8,318.4 L1323.8,317.4 L1326.8,316.5 L1329.7,315.5 L1332.7,314.6 L1335.7,313.6 L1338.6,312.6 L1341.6,311.6 L1344.6,310.4 L1347.6,309.3 L1350.5,308.0 L1353.5,306.7 L1356.5,305.4 L1359.5,304.1 L1362.4,302.7 L1365.4,301.3 L1368.4,299.9 L1371.4,298.6 L1374.3,297.2 L1377.3,295.9 L1380.3,294.6 L1383.3,293.3 L1386.2,292.1 L1389.2,291.0 L1392.2,289.9 L1395.1,288.9 L1398.1,288.0 L1401.1,287.2 L1404.1,286.4 L1407.0,285.8 L1410.0,285.3 L1413.0,284.9 L1416.0,284.5 L1418.9,284.3 L1421.9,284.1 L1424.9,284.0 L1427.9,284.0 L1430.8,284.1 L1433.8,284.2 L1436.8,284.4 L1439.8,284.7 L1442.7,285.1 L1445.7,285.5 L1448.7,285.9 L1451.7,286.5 L1454.6,287.0 L1457.6,287.7 L1460.6,288.3 L1463.5,289.0 L1466.5,289.8 L1469.5,290.6 L1472.5,291.4 L1475.4,292.3 L1478.4,293.2 L1481.4,294.1 L1484.4,295.1 L1487.3,296.0 L1490.3,297.0 L1493.3,298.0 L1496.3,299.0 L1499.2,300.1 L1502.2,301.1 L1505.2,302.2 L1508.2,303.3 L1511.1,304.3 L1514.1,305.4 L1517.1,306.5 L1520.0,307.6 L1523.0,308.7 L1526.0,309.9 L1529.0,311.0 L1531.9,312.1 L1534.9,313.2 L1537.9,314.4 L1540.9,315.5 L1543.8,316.6 L1546.8,317.8 L1549.8,318.9 L1552.8,320.0 L1555.7,321.2 L1558.7,322.3 L1561.7,323.4 L1564.7,324.6 L1567.6,325.7 L1570.6,326.8 L1573.6,327.9 L1576.6,329.1 L1579.5,330.2 L1582.5,331.3 L1585.5,332.4 L1588.4,333.5 L1591.4,334.7 L1594.4,335.8 L1597.4,336.9 L1600.3,338.0 L1603.3,339.2 L1606.3,340.3 L1609.3,341.4 L1612.2,342.5 L1615.2,343.7 L1618.2,344.8 L1621.2,345.9 L1624.1,347.1 L1627.1,348.2 L1630.1,349.3 L1633.1,350.5 L1636.0,351.6 L1639.0,352.8 L1642.0,353.9 L1644.9,355.1 L1647.9,356.2 L1650.9,357.4 L1653.9,358.5 L1656.8,359.6 L1659.8,360.7 L1662.8,361.8 L1665.8,362.9 L1668.7,364.0 L1671.7,365.1 L1674.7,366.1 L1677.7,367.1 L1680.6,368.1 L1683.6,369.1 L1686.6,370.0 L1689.6,370.9 L1692.5,371.8 L1695.5,372.6 L1698.5,373.4 L1701.4,374.2 L1704.4,374.9 L1707.4,375.6 L1710.4,376.2 L1713.3,376.9 L1716.3,377.5 L1719.3,378.1 L1722.3,378.7 L1725.2,379.2 L1728.2,379.8 L1731.2,380.4 L1734.2,380.9 L1737.1,381.5 L1740.1,382.1 L1743.1,382.7 L1746.1,383.3 L1749.0,383.9 L1752.0,384.5 L1755.0,385.2 L1758.0,385.9 L1760.9,386.6 L1763.9,387.4 L1766.9,388.2 L1769.8,389.0 L1772.8,389.8 L1775.8,390.7 L1778.8,391.6 L1781.7,392.5 L1784.7,393.4 L1787.7,394.3 L1790.7,395.3 L1793.6,396.2 L1796.6,397.2 L1799.6,398.2 L1802.6,399.2 L1805.5,400.2 L1808.5,401.2 L1811.5,402.2 L1814.5,403.2 L1817.4,404.2 L1820.4,405.2 L1823.4,406.2 L1826.3,407.2 L1829.3,408.1 L1832.3,409.1 L1835.3,410.1 L1838.2,411.1 L1841.2,412.0 L1844.2,413.0 L1847.2,414.0 L1850.1,414.9 L1853.1,415.9 L1856.1,416.8 L1859.1,417.7 L1862.0,418.7 L1865.0,419.6 L1868.0,420.5 L1871.0,421.5 L1873.9,422.4 L1876.9,423.3 L1879.9,424.2 L1882.9,425.1 L1885.8,426.0 L1888.8,426.9 L1891.8,427.8 L1894.7,428.7 L1897.7,429.6 L1900.7,430.4 L1903.7,431.3 L1906.6,432.2 L1909.6,433.0 L1912.6,433.9 L1915.6,434.7 L1918.5,435.6 L1921.5,436.4 L1924.5,437.3 L1927.5,438.1 L1930.4,438.9 L1933.4,439.7 L1936.4,440.6 L1939.4,441.4 L1942.3,442.2 L1945.3,443.0 L1948.3,443.8 L1951.2,444.6 L1954.2,445.3 L1957.2,446.1 L1960.2,446.9 L1963.1,447.7 L1966.1,448.4 L1969.1,449.2 L1972.1,449.9 L1975.0,450.7 L1978.0,451.4 L1981.0,452.1 L1984.0,452.9 L1986.9,453.6 L1989.9,454.3 L1992.9,455.0 L1995.9,455.7 L1998.8,456.4 L2001.8,457.1 L2004.8,457.8 L2007.8,458.5 L2010.7,459.2 L2013.7,459.9 L2016.7,460.5 L2019.6,461.2 L2022.6,461.9 L2025.6,462.5 L2028.6,463.2 L2031.5,463.8 L2034.5,464.5 L2037.5,465.2 L2040.5,465.8 L2043.4,466.5 L2046.4,467.1 L2049.4,467.8 L2052.4,468.4 L2055.3,469.1 L2058.3,469.7 L2061.3,470.4 L2064.3,471.1 L2067.2,471.7 L2070.2,472.4 L2073.2,473.1 L2076.1,473.7 L2079.1,474.4 L2082.1,475.1 L2085.1,475.8 L2088.0,476.5 L2089.8,476.9" stroke="#0000ff" stroke-width="4.1" fill="none" stroke-linejoin="round"/>
<path d="M2179.0,499.8 L2182.0,500.6 L2185.0,501.4 L2188.0,502.2 L2190.9,503.0 L2193.9,503.8 L2196.9,504.6 L2199.9,505.5 L2202.8,506.3 L2205.8,507.1 L2208.8,507.9 L2211.8,508.7 L2214.7,509.6 L2217.7,510.4 L2220.7,511.2 L2223.6,512.0 L2226.6,512.8 L2229.6,513.6 L2232.6,514.5 L2235.5,515.3 L2238.5,516.1 L2241.5,516.9 L2244.5,517.7 L2247.4,518.5 L2250.4,519.4 L2253.4,520.2 L2256.4,521.0 L2259.3,521.8 L2262.3,522.6 L2265.3,523.4 L2268.3,524.2 L2271.2,525.0 L2274.2,525.8 L2277.2,526.6 L2280.2,527.4 L2283.1,528.2 L2286.1,528.9 L2289.1,529.7 L2292.0,530.5 L2295.0,531.3 L2298.0,532.1 L2301.0,532.8 L2303.9,533.6 L2306.9,534.4 L2309.9,535.1 L2312.9,535.9 L2315.8,536.6 L2318.8,537.4 L2321.8,538.1 L2324.8,538.9 L2327.7,539.6 L2330.7,540.3 L2333.7,541.0 L2336.7,541.8 L2339.6,542.5 L2342.6,543.2 L2345.6,543.9 L2348.5,544.6 L2351.5,545.3 L2354.5,546.0 L2357.5,546.7 L2360.4,547.3 L2363.4,548.0 L2366.4,548.7 L2369.4,549.3 L2372.3,550.0 L2375.3,550.6 L2378.3,551.3 L2381.3,552.0 L2384.2,552.6 L2387.2,553.2 L2390.2,553.9 L2393.2,554.5 L2396.1,555.2 L2399.1,555.8 L2402.1,556.5 L2405.1,557.1 L2408.0,557.8 L2411.0,558.4 L2414.0,559.1 L2416.9,559.8 L2419.9,560.4 L2422.9,561.1 L2425.9,561.7 L2428.8,562.4 L2431.8,563.1 L2434.8,563.8 L2437.8,564.5 L2440.7,565.2 L2443.7,565.9 L2446.7,566.6 L2449.7,567.3 L2452.6,568.0 L2455.6,568.8 L2458.6,569.5 L2461.6,570.3 L2464.5,571.0 L2467.5,571.8 L2470.5,572.6 L2473.4,573.4 L2476.4,574.2 L2479.4,575.0 L2482.4,575.8 L2485.3,576.7 L2488.3,577.5 L2491.3,578.4 L2494.3,579.3 L2497.2,580.2 L2500.2,581.1 L2503.2,582.0 L2506.2,582.9 L2509.1,583.9 L2512.1,584.9 L2515.1,585.9 L2518.1,586.9 L2521.0,587.9 L2524.0,588.9 L2527.0,590.0 L2530.0,591.1 L2532.9,592.2 L2535.9,593.3 L2538.9,594.4 L2541.8,595.6 L2544.8,596.7 L2547.8,597.9 L2550.8,599.1 L2553.7,600.3 L2556.7,601.5 L2559.7,602.7 L2562.7,603.9 L2565.6,605.2 L2568.6,606.4 L2571.6,607.6 L2574.6,608.8 L2577.5,610.0 L2580.5,611.3 L2583.5,612.5 L2586.5,613.7 L2589.4,614.8 L2592.4,616.0 L2595.4,617.2 L2598.3,618.3 L2601.3,619.5 L2604.3,620.6 L2607.3,621.7 L2610.2,622.8 L2613.2,623.8 L2616.2,624.9 L2619.2,625.9 L2622.1,626.9 L2625.1,627.8 L2628.1,628.7 L2631.1,629.6 L2634.0,630.5 L2637.0,631.3 L2640.0,632.1 L2643.0,632.9 L2645.9,633.6 L2648.9,634.3 L2650.1,634.5" stroke="#0000ff" stroke-width="4.1" fill="none" stroke-linejoin="round"/>
<path d="M984.8,636.3 L987.7,635.6 L990.7,634.8 L993.7,633.9 L996.7,632.9 L999.6,631.7 L1002.6,630.4 L1005.6,629.1 L1008.6,627.6 L1011.5,625.9 L1014.5,624.2 L1017.5,622.3 L1020.4,620.4 L1023.4,618.3 L1026.4,616.0 L1029.4,613.7 L1032.3,611.2 L1035.3,608.6 L1038.3,605.9 L1041.3,603.1 L1044.2,600.1 L1047.2,597.1 L1050.2,593.9 L1053.2,590.6 L1056.1,587.3 L1059.1,583.8 L1062.1,580.2 L1065.1,576.6 L1068.0,572.8 L1071.0,569.0 L1074.0,565.1 L1077.0,561.1 L1079.9,557.0 L1082.9,552.9 L1085.9,548.6 L1088.8,544.4 L1091.8,540.0 L1094.8,535.6 L1097.8,531.1 L1100.7,526.6 L1103.7,522.0 L1106.7,517.4 L1109.7,512.8 L1112.6,508.1 L1115.6,503.4 L1118.6,498.7 L1121.6,494.0 L1124.5,489.2 L1127.5,484.5 L1130.5,479.8 L1133.5,475.0 L1136.4,470.3 L1139.4,465.7 L1142.4,461.0 L1145.3,456.4 L1148.3,451.8 L1151.3,447.2 L1154.3,442.7 L1157.2,438.3 L1160.2,433.9 L1163.2,429.6 L1166.2,425.4 L1169.1,421.2 L1172.1,417.1 L1175.1,413.1 L1178.1,409.2 L1181.0,405.4 L1184.0,401.7 L1187.0,398.1 L1190.0,394.6 L1192.9,391.2 L1195.9,388.0 L1198.9,384.9 L1201.9,381.8 L1204.8,378.8 L1207.8,375.9 L1210.8,373.0 L1213.7,370.1 L1216.7,367.2 L1219.7,364.2 L1222.7,361.2 L1225.6,358.1 L1228.6,354.9 L1231.6,351.7 L1234.6,348.5 L1237.5,345.3 L1240.5,342.0 L1243.5,338.8 L1246.5,335.7 L1249.4,332.6 L1252.4,329.5 L1255.4,326.6 L1258.4,323.8 L1261.3,321.0 L1264.3,318.4 L1267.3,315.9 L1270.2,313.5 L1273.2,311.2 L1276.2,309.0 L1279.2,307.0 L1282.1,305.1 L1285.1,303.3 L1288.1,301.7 L1291.1,300.1 L1294.0,298.7 L1297.0,297.3 L1300.0,296.1 L1303.0,294.9 L1305.9,293.7 L1308.9,292.6 L1311.9,291.6 L1314.9,290.5 L1317.8,289.5 L1320.8,288.4 L1323.8,287.4 L1326.8,286.3 L1329.7,285.2 L1332.7,284.0 L1335.7,282.8 L1338.6,281.5 L1341.6,280.2 L1344.6,278.7 L1347.6,277.2 L1350.5,275.6 L1353.5,273.9 L1356.5,272.3 L1359.5,270.6 L1362.4,269.0 L1365.4,267.4 L1368.4,265.9 L1371.4,264.4 L1374.3,263.0 L1377.3,261.7 L1380.3,260.5 L1383.3,259.4 L1386.2,258.4 L1389.2,257.5 L1392.2,256.6 L1395.1,255.8 L1398.1,255.1 L1401.1,254.5 L1404.1,253.9 L1407.0,253.5 L1410.0,253.1 L1413.0,252.7 L1416.0,252.5 L1418.9,252.3 L1421.9,252.1 L1424.9,252.1 L1427.9,252.1 L1430.8,252.1 L1433.8,252.2 L1436.8,252.4 L1439.8,252.6 L1442.7,252.9 L1445.7,253.2 L1448.7,253.6 L1451.7,254.1 L1454.6,254.5 L1457.6,255.1 L1460.6,255.6 L1463.5,256.2 L1466.5,256.9 L1469.5,257.6 L1472.5,258.3 L1475.4,259.1 L1478.4,259.9 L1481.4,260.7 L1484.4,261.6 L1487.3,262.5 L1490.3,263.4 L1493.3,264.3 L1496.3,265.3 L1499.2,266.3 L1502.2,267.3 L1505.2,268.4 L1508.2,269.4 L1511.1,270.5 L1514.1,271.5 L1517.1,272.6 L1520.0,273.7 L1523.0,274.9 L1526.0,276.0 L1529.0,277.1 L1531.9,278.3 L1534.9,279.4 L1537.9,280.6 L1540.9,281.7 L1543.8,282.9 L1546.8,284.0 L1549.8,285.2 L1552.8,286.4 L1555.7,287.5 L1558.7,288.7 L1561.7,289.9 L1564.7,291.0 L1567.6,292.2 L1570.6,293.4 L1573.6,294.5 L1576.6,295.7 L1579.5,296.8 L1582.5,298.0 L1585.5,299.1 L1588.4,300.2 L1591.4,301.4 L1594.4,302.5 L1597.4,303.6 L1600.3,304.7 L1603.3,305.8 L1606.3,306.8 L1609.3,307.9 L1612.2,308.9 L1615.2,310.0 L1618.2,311.0 L1621.2,312.0 L1624.1,313.0 L1627.1,314.0 L1630.1,314.9 L1633.1,315.9 L1636.0,316.8 L1639.0,317.8 L1642.0,318.7 L1644.9,319.6 L1647.9,320.5 L1650.9,321.4 L1653.9,322.3 L1656.8,323.2 L1659.8,324.0 L1662.8,324.9 L1665.8,325.7 L1668.7,326.6 L1671.7,327.4 L1674.7,328.2 L1677.7,329.0 L1680.6,329.8 L1683.6,330.6 L1686.6,331.4 L1689.6,332.2 L1692.5,333.0 L1695.5,333.7 L1698.5,334.5 L1701.4,335.3 L1704.4,336.0 L1707.4,336.7 L1710.4,337.5 L1713.3,338.2 L1716.3,338.9 L1719.3,339.7 L1722.3,340.4 L1725.2,341.1 L1728.2,341.8 L1731.2,342.5 L1734.2,343.2 L1737.1,343.9 L1740.1,344.6 L1743.1,345.3 L1746.1,346.0 L1749.0,346.7 L1752.0,347.4 L1755.0,348.1 L1758.0,348.7 L1760.9,349.4 L1763.9,350.1 L1766.9,350.8 L1769.8,351.5 L1772.8,352.1 L1775.8,352.8 L1778.8,353.5 L1781.7,354.2 L1784.7,354.8 L1787.7,355.5 L1790.7,356.2 L1793.6,356.8 L1796.6,357.5 L1799.6,358.2 L1802.6,358.8 L1805.5,359.5 L1808.5,360.2 L1811.5,360.8 L1814.5,361.5 L1817.4,362.1 L1820.4,362.8 L1823.4,363.5 L1826.3,364.1 L1829.3,364.8 L1832.3,365.4 L1835.3,366.1 L1838.2,366.7 L1841.2,367.4 L1844.2,368.0 L1847.2,368.7 L1850.1,369.3 L1853.1,370.0 L1856.1,370.6 L1859.1,371.3 L1862.0,371.9 L1865.0,372.6 L1868.0,373.2 L1871.0,373.9 L1873.9,374.5 L1876.9,375.2 L1879.9,375.8 L1882.9,376.4 L1885.8,377.1 L1888.8,377.7 L1891.8,378.4 L1894.7,379.0 L1897.7,379.7 L1900.7,380.3 L1903.7,380.9 L1906.6,381.6 L1909.6,382.2 L1912.6,382.9 L1915.6,383.5 L1918.5,384.2 L1921.5,384.8 L1924.5,385.4 L1927.5,386.1 L1930.4,386.7 L1933.4,387.4 L1936.4,388.0 L1939.4,388.6 L1942.3,389.3 L1945.3,389.9 L1948.3,390.6 L1951.2,391.2 L1954.2,391.9 L1957.2,392.5 L1960.2,393.1 L1963.1,393.8 L1966.1,394.4 L1969.1,395.1 L1972.1,395.7 L1975.0,396.3 L1978.0,397.0 L1981.0,397.6 L1984.0,398.3 L1986.9,398.9 L1989.9,399.6 L1992.9,400.2 L1995.9,400.9 L1998.8,401.5 L2001.8,402.2 L2004.8,402.8 L2007.8,403.5 L2010.7,404.1 L2013.7,404.8 L2016.7,405.4 L2019.6,406.1 L2022.6,406.7 L2025.6,407.4 L2028.6,408.0 L2031.5,408.7 L2034.5,409.3 L2037.5,410.0 L2040.5,410.6 L2043.4,411.3 L2046.4,412.0 L2049.4,412.6 L2052.4,413.3 L2055.3,413.9 L2058.3,414.6 L2061.3,415.3 L2064.3,415.9 L2067.2,416.6 L2070.2,417.3 L2073.2,417.9 L2076.1,418.6 L2079.1,419.3 L2082.1,420.0 L2085.1,420.6 L2088.0,421.3 L2091.0,422.0 L2094.0,422.6 L2097.0,423.3 L2099.9,424.0 L2102.9,424.7 L2105.9,425.3 L2108.9,426.0 L2111.8,426.7 L2114.8,427.4 L2117.8,428.1 L2120.8,428.7 L2123.7,429.4 L2126.7,430.1 L2129.7,430.8 L2132.7,431.5 L2135.6,432.1 L2138.6,432.8 L2141.6,433.5 L2144.5,434.2 L2147.5,434.9 L2150.5,435.6 L2153.5,436.2 L2156.4,436.9 L2159.4,437.6 L2162.4,438.3 L2165.4,439.0 L2168.3,439.7 L2171.3,440.3 L2174.3,441.0 L2177.3,441.7 L2180.2,442.4 L2183.2,443.1 L2186.2,443.8 L2189.2,444.4 L2192.1,445.1 L2195.1,445.8 L2198.1,446.5 L2201.0,447.2 L2204.0,447.9 L2207.0,448.6 L2210.0,449.2 L2212.9,449.9 L2215.9,450.6 L2218.9,451.3 L2221.9,452.0 L2224.8,452.6 L2227.8,453.3 L2230.8,454.0 L2233.8,454.7 L2236.7,455.4 L2239.7,456.0 L2242.7,456.7 L2245.7,457.4 L2248.6,458.1 L2251.6,458.8 L2254.6,459.4 L2257.6,460.1 L2260.5,460.8 L2263.5,461.5 L2266.5,462.1 L2269.4,462.8 L2272.4,463.5 L2275.4,464.1 L2278.4,464.8 L2281.3,465.5 L2284.3,466.1 L2287.3,466.8 L2290.3,467.5 L2293.2,468.1 L2296.2,468.8 L2299.2,469.5 L2302.2,470.1 L2305.1,470.8 L2308.1,471.5 L2311.1,472.1 L2314.1,472.8 L2317.0,473.4 L2320.0,474.1 L2323.0,474.7 L2325.9,475.4 L2328.9,476.0 L2331.9,476.7 L2334.9,477.3 L2337.8,478.0 L2340.8,478.6 L2343.8,479.3 L2346.8,479.9 L2349.7,480.6 L2352.7,481.2 L2355.7,481.8 L2358.7,482.5 L2361.6,483.1 L2364.6,483.8 L2367.6,484.4 L2370.6,485.0 L2373.5,485.7 L2376.5,486.3 L2379.5,486.9 L2382.5,487.6 L2385.4,488.2 L2388.4,488.8 L2391.4,489.5 L2394.3,490.1 L2397.3,490.8 L2400.3,491.4 L2403.3,492.1 L2406.2,492.7 L2409.2,493.4 L2412.2,494.0 L2415.2,494.7 L2418.1,495.3 L2421.1,496.0 L2424.1,496.7 L2427.1,497.3 L2430.0,498.0 L2433.0,498.7 L2436.0,499.4 L2439.0,500.1 L2441.9,500.8 L2444.9,501.5 L2447.9,502.2 L2450.8,502.9 L2453.8,503.6 L2456.8,504.3 L2459.8,505.1 L2462.7,505.8 L2465.7,506.6 L2468.7,507.3 L2471.7,508.1 L2474.6,508.8 L2477.6,509.6 L2480.6,510.4 L2483.6,511.2 L2486.5,512.0 L2489.5,512.8 L2492.5,513.6 L2495.5,514.5 L2498.4,515.3 L2501.4,516.2 L2504.4,517.0 L2507.3,517.9 L2510.3,518.8 L2513.3,519.7 L2516.3,520.6 L2519.2,521.5 L2522.2,522.4 L2525.2,523.3 L2528.2,524.3 L2531.1,525.3 L2534.1,526.2 L2537.1,527.2 L2540.1,528.2 L2543.0,529.2 L2546.0,530.2 L2549.0,531.3 L2552.0,532.3 L2554.9,533.3 L2557.9,534.4 L2560.9,535.4 L2563.9,536.5 L2566.8,537.5 L2569.8,538.6 L2572.8,539.6 L2575.7,540.7 L2578.7,541.7 L2581.7,542.8 L2584.7,543.8 L2587.6,544.9 L2590.6,545.9 L2593.6,546.9 L2596.6,548.0 L2599.5,549.0 L2602.5,550.0 L2605.5,551.0 L2608.5,552.0 L2611.4,553.0 L2614.4,553.9 L2617.4,554.9 L2620.4,555.8 L2623.3,556.7 L2626.3,557.6 L2629.3,558.5 L2632.2,559.4 L2635.2,560.3 L2638.2,561.1 L2641.2,561.9 L2644.1,562.7 L2647.1,563.5 L2650.1,564.2" stroke="#000" stroke-width="2.2" fill="none" stroke-linejoin="round"/>
<path d="M984.8,65.3V957.9" stroke="#000" stroke-width="3.7"/>
<text transform="translate(2135.5,129.0) scale(1,1.040)" font-size="41.5" fill="#000" text-anchor="middle">5%</text>
<text transform="translate(2135.5,222.9) scale(1,1.040)" font-size="41.5" fill="#0000ff" text-anchor="middle">15%</text>
<text transform="translate(2135.5,502.3) scale(1,1.040)" font-size="41.5" fill="#0000ff" text-anchor="middle">85%</text>
<text transform="translate(2135.5,542.5) scale(1,1.040)" font-size="41.5" fill="#000" text-anchor="middle">95%</text>
<path d="M211.6,65.3V957.9M271.1,65.3V957.9M330.5,65.3V957.9M390.0,65.3V957.9M449.5,65.3V957.9M509.0,65.3V957.9M568.4,65.3V957.9M627.9,65.3V957.9M687.4,65.3V957.9M746.9,65.3V957.9M806.3,65.3V957.9M865.8,65.3V957.9M925.3,65.3V957.9M984.8,65.3V957.9M1044.2,65.3V957.9M1103.7,65.3V957.9M1163.2,65.3V957.9M1222.7,65.3V957.9M1282.1,65.3V957.9M1341.6,65.3V957.9M1401.1,65.3V957.9M1460.6,65.3V957.9M1520.0,65.3V957.9M1579.5,65.3V957.9M1639.0,65.3V957.9M1698.5,65.3V957.9M1758.0,65.3V957.9M1817.4,65.3V957.9M1876.9,65.3V957.9M1936.4,65.3V957.9M1995.9,65.3V957.9M2055.3,65.3V957.9M2114.8,65.3V957.9M2174.3,65.3V957.9M2233.8,65.3V957.9M2293.2,65.3V957.9M2352.7,65.3V957.9M2412.2,65.3V957.9M2471.7,65.3V957.9M2531.1,65.3V957.9M2590.6,65.3V957.9M152.1,928.1H2650.1M152.1,898.4H2650.1M152.1,868.6H2650.1M152.1,838.9H2650.1M152.1,809.1H2650.1M152.1,779.4H2650.1M152.1,749.6H2650.1M152.1,719.9H2650.1M152.1,690.1H2650.1M152.1,660.4H2650.1M152.1,630.6H2650.1M152.1,600.9H2650.1M152.1,571.1H2650.1M152.1,541.3H2650.1M152.1,511.6H2650.1M152.1,481.8H2650.1M152.1,452.1H2650.1M152.1,422.3H2650.1M152.1,392.6H2650.1M152.1,362.8H2650.1M152.1,333.1H2650.1M152.1,303.3H2650.1M152.1,273.6H2650.1M152.1,243.8H2650.1M152.1,214.1H2650.1M152.1,184.3H2650.1M152.1,154.6H2650.1M152.1,124.8H2650.1M152.1,95.1H2650.1" stroke="#262626" stroke-opacity="0.165" stroke-width="4.0" stroke-dasharray="4.4 3.7" fill="none"/>
<path d="M152.1,809.1H2650.1M152.1,660.4H2650.1M152.1,511.6H2650.1M152.1,362.8H2650.1M152.1,214.1H2650.1" stroke="#262626" stroke-opacity="0.25" stroke-width="4.0" fill="none"/>
<text transform="translate(638.5,103.0) scale(1,1.040)" font-size="41.95" fill="#000" font-weight="bold">Observations</text>
<text transform="translate(1051.3,103.0) scale(1,1.040)" font-size="41.95" fill="#000" font-weight="bold">Prévisions</text>
<path d="M942.9,91.4 L958.5,78.6 L959.3,79.2 Q956.5,82.8 955.0,85.7 L977.7,85.7 L977.7,88.8 L950.5,88.8 Q947.7,91.4 950.5,94.0 L977.7,94.0 L977.7,97.1 L955.0,97.1 Q956.5,100.0 959.3,103.6 L958.5,104.2 Z" fill="#000"/>
<path d="M1027.1,91.4 L1011.5,78.6 L1010.7,79.2 Q1013.5,82.8 1015.0,85.7 L992.3,85.7 L992.3,88.8 L1019.5,88.8 Q1022.3,91.4 1019.5,94.0 L992.3,94.0 L992.3,97.1 L1015.0,97.1 Q1013.5,100.0 1010.7,103.6 L1011.5,104.2 Z" fill="#000"/>
<path d="M568.4,65.3v26 M568.4,957.9v-26M1044.2,65.3v26 M1044.2,957.9v-26M1222.7,65.3v26 M1222.7,957.9v-26M1401.1,65.3v26 M1401.1,957.9v-26M1639.0,65.3v26 M1639.0,957.9v-26M1876.9,65.3v26 M1876.9,957.9v-26M2293.2,65.3v26 M2293.2,957.9v-26M152.1,809.1h26 M2650.1,809.1h-26M152.1,660.4h26 M2650.1,660.4h-26M152.1,511.6h26 M2650.1,511.6h-26M152.1,362.8h26 M2650.1,362.8h-26M152.1,214.1h26 M2650.1,214.1h-26" stroke="#262626" stroke-width="3.6" fill="none"/>
<rect x="152.1" y="65.3" width="2498.0" height="892.6" fill="none" stroke="#262626" stroke-width="3.6"/>
<text transform="translate(152.1,1012.8) scale(1,1.040)" font-size="41.5" fill="#262626" text-anchor="middle">30 mars</text>
<text transform="translate(568.4,1012.8) scale(1,1.040)" font-size="41.5" fill="#262626" text-anchor="middle">06 avr.</text>
<text transform="translate(1044.2,1012.8) scale(1,1.040)" font-size="41.5" fill="#262626" text-anchor="middle">14 avr.</text>
<text transform="translate(1222.7,1012.8) scale(1,1.040)" font-size="41.5" fill="#262626" text-anchor="middle">17 avr.</text>
<text transform="translate(1401.1,1012.8) scale(1,1.040)" font-size="41.5" fill="#262626" text-anchor="middle">20 avr.</text>
<text transform="translate(1639.0,1012.8) scale(1,1.040)" font-size="41.5" fill="#262626" text-anchor="middle">24 avr.</text>
<text transform="translate(1876.9,1012.8) scale(1,1.040)" font-size="41.5" fill="#262626" text-anchor="middle">28 avr.</text>
<text transform="translate(2293.2,1012.8) scale(1,1.040)" font-size="41.5" fill="#262626" text-anchor="middle">05 mai</text>
<text transform="translate(134.3,974.9) scale(1,1.040)" font-size="50.2" fill="#262626" text-anchor="end">0.5</text>
<text transform="translate(3455.5,974.9) scale(1,1.040)" font-size="50.2" fill="#262626">0.5</text>
<text transform="translate(134.3,826.1) scale(1,1.040)" font-size="50.2" fill="#262626" text-anchor="end">1.0</text>
<text transform="translate(3455.5,826.1) scale(1,1.040)" font-size="50.2" fill="#262626">1.0</text>
<text transform="translate(134.3,677.4) scale(1,1.040)" font-size="50.2" fill="#262626" text-anchor="end">1.5</text>
<text transform="translate(3455.5,677.4) scale(1,1.040)" font-size="50.2" fill="#262626">1.5</text>
<text transform="translate(134.3,528.6) scale(1,1.040)" font-size="50.2" fill="#262626" text-anchor="end">2.0</text>
<text transform="translate(3455.5,528.6) scale(1,1.040)" font-size="50.2" fill="#262626">2.0</text>
<text transform="translate(134.3,379.8) scale(1,1.040)" font-size="50.2" fill="#262626" text-anchor="end">2.5</text>
<text transform="translate(3455.5,379.8) scale(1,1.040)" font-size="50.2" fill="#262626">2.5</text>
<text transform="translate(134.3,231.1) scale(1,1.040)" font-size="50.2" fill="#262626" text-anchor="end">3.0</text>
<text transform="translate(3455.5,231.1) scale(1,1.040)" font-size="50.2" fill="#262626">3.0</text>
<text transform="translate(134.3,82.3) scale(1,1.040)" font-size="50.2" fill="#262626" text-anchor="end">3.5</text>
<text transform="translate(3455.5,82.3) scale(1,1.040)" font-size="50.2" fill="#262626">3.5</text>
<text transform="translate(154.5,43.3) scale(1,1.040)" font-size="54.8" fill="#262626" font-weight="bold">TROIS-RIVIERES (#03360)</text>
<text transform="translate(40.0,510.5) rotate(-90) scale(1,1.040)" font-size="50.0" fill="#262626" text-anchor="middle" font-weight="bold">Niveau d'eau [m p/r ZC]</text>
<rect x="2668.9" y="65.3" width="112.2" height="892.6" fill="#b5fafc"/>
<rect x="2702.5" y="367.6" width="45" height="253.8" fill="#ebebeb"/>
<path d="M2668.9,928.1H2781.1M2668.9,898.4H2781.1M2668.9,868.6H2781.1M2668.9,838.9H2781.1M2668.9,779.4H2781.1M2668.9,749.6H2781.1M2668.9,719.9H2781.1M2668.9,690.1H2781.1M2668.9,630.6H2781.1M2668.9,600.9H2781.1M2668.9,571.1H2781.1M2668.9,541.3H2781.1M2668.9,481.8H2781.1M2668.9,452.1H2781.1M2668.9,422.3H2781.1M2668.9,392.6H2781.1M2668.9,333.1H2781.1M2668.9,303.3H2781.1M2668.9,273.6H2781.1M2668.9,243.8H2781.1M2668.9,184.3H2781.1M2668.9,154.6H2781.1M2668.9,124.8H2781.1M2668.9,95.1H2781.1" stroke="#262626" stroke-opacity="0.165" stroke-width="4.0" stroke-dasharray="4.4 3.7" fill="none"/>
<path d="M2668.9,809.1H2781.1M2668.9,660.4H2781.1M2668.9,511.6H2781.1M2668.9,362.8H2781.1M2668.9,214.1H2781.1" stroke="#262626" stroke-opacity="0.3" stroke-width="4.0" fill="none"/>
<rect x="2702.5" y="367.6" width="45" height="253.8" fill="none" stroke="#000" stroke-width="2.2" stroke-dasharray="13.5 7.2"/>
<rect x="2714.5" y="592.4" width="21" height="21" fill="#000"/>
<path d="M2708.7,380.8H2741.3L2725.0,408.0Z" fill="#0000ff"/>
<path d="M2708.7,621.2H2741.3L2725.0,594.0Z" fill="#0000ff"/>
<path d="M2725.0,65.3v11 M2725.0,957.9v-11M2668.9,809.1h10.5 M2781.1,809.1h-10.5M2668.9,660.4h10.5 M2781.1,660.4h-10.5M2668.9,511.6h10.5 M2781.1,511.6h-10.5M2668.9,362.8h10.5 M2781.1,362.8h-10.5M2668.9,214.1h10.5 M2781.1,214.1h-10.5" stroke="#262626" stroke-width="3.6" fill="none"/>
<rect x="2668.9" y="65.3" width="112.2" height="892.6" fill="none" stroke="#262626" stroke-width="3.6"/>
<text transform="translate(2725.5,1001.5) scale(1,1.040)" font-size="32.4" fill="#262626" text-anchor="middle" xml:space="preserve">14  avr.</text>
<text transform="translate(2725.5,1049.6) scale(1,1.040)" font-size="32.4" fill="#262626" text-anchor="middle" xml:space="preserve">16  avr.</text>
<rect x="2834.1" y="158.1" width="45" height="247.5" fill="#ebebeb"/>
<path d="M2799.8,928.1H2913.3M2799.8,898.4H2913.3M2799.8,868.6H2913.3M2799.8,838.9H2913.3M2799.8,779.4H2913.3M2799.8,749.6H2913.3M2799.8,719.9H2913.3M2799.8,690.1H2913.3M2799.8,630.6H2913.3M2799.8,600.9H2913.3M2799.8,571.1H2913.3M2799.8,541.3H2913.3M2799.8,481.8H2913.3M2799.8,452.1H2913.3M2799.8,422.3H2913.3M2799.8,392.6H2913.3M2799.8,333.1H2913.3M2799.8,303.3H2913.3M2799.8,273.6H2913.3M2799.8,243.8H2913.3M2799.8,184.3H2913.3M2799.8,154.6H2913.3M2799.8,124.8H2913.3M2799.8,95.1H2913.3" stroke="#262626" stroke-opacity="0.165" stroke-width="4.0" stroke-dasharray="4.4 3.7" fill="none"/>
<path d="M2799.8,809.1H2913.3M2799.8,660.4H2913.3M2799.8,511.6H2913.3M2799.8,362.8H2913.3M2799.8,214.1H2913.3" stroke="#262626" stroke-opacity="0.3" stroke-width="4.0" fill="none"/>
<rect x="2834.1" y="158.1" width="45" height="247.5" fill="none" stroke="#000" stroke-width="2.2" stroke-dasharray="13.5 7.2"/>
<rect x="2846.1" y="352.3" width="21" height="21" fill="#000"/>
<path d="M2840.2,197.3H2872.9L2856.6,224.5Z" fill="#0000ff"/>
<path d="M2840.2,396.0H2872.9L2856.6,368.8Z" fill="#0000ff"/>
<path d="M2856.6,65.3v11 M2856.6,957.9v-11M2799.8,809.1h10.5 M2913.3,809.1h-10.5M2799.8,660.4h10.5 M2913.3,660.4h-10.5M2799.8,511.6h10.5 M2913.3,511.6h-10.5M2799.8,362.8h10.5 M2913.3,362.8h-10.5M2799.8,214.1h10.5 M2913.3,214.1h-10.5" stroke="#262626" stroke-width="3.6" fill="none"/>
<rect x="2799.8" y="65.3" width="113.5" height="892.6" fill="none" stroke="#262626" stroke-width="3.6"/>
<text transform="translate(2857.1,1001.5) scale(1,1.040)" font-size="32.4" fill="#262626" text-anchor="middle" xml:space="preserve">17  avr.</text>
<text transform="translate(2857.1,1049.6) scale(1,1.040)" font-size="32.4" fill="#262626" text-anchor="middle" xml:space="preserve">19  avr.</text>
<rect x="2930.9" y="65.3" width="113.1" height="892.6" fill="#b5fafc"/>
<rect x="2964.9" y="89.1" width="45" height="273.4" fill="#ebebeb"/>
<path d="M2930.9,928.1H3044.0M2930.9,898.4H3044.0M2930.9,868.6H3044.0M2930.9,838.9H3044.0M2930.9,779.4H3044.0M2930.9,749.6H3044.0M2930.9,719.9H3044.0M2930.9,690.1H3044.0M2930.9,630.6H3044.0M2930.9,600.9H3044.0M2930.9,571.1H3044.0M2930.9,541.3H3044.0M2930.9,481.8H3044.0M2930.9,452.1H3044.0M2930.9,422.3H3044.0M2930.9,392.6H3044.0M2930.9,333.1H3044.0M2930.9,303.3H3044.0M2930.9,273.6H3044.0M2930.9,243.8H3044.0M2930.9,184.3H3044.0M2930.9,154.6H3044.0M2930.9,124.8H3044.0M2930.9,95.1H3044.0" stroke="#262626" stroke-opacity="0.165" stroke-width="4.0" stroke-dasharray="4.4 3.7" fill="none"/>
<path d="M2930.9,809.1H3044.0M2930.9,660.4H3044.0M2930.9,511.6H3044.0M2930.9,362.8H3044.0M2930.9,214.1H3044.0" stroke="#262626" stroke-opacity="0.3" stroke-width="4.0" fill="none"/>
<rect x="2964.9" y="89.1" width="45" height="273.4" fill="none" stroke="#000" stroke-width="2.2" stroke-dasharray="13.5 7.2"/>
<rect x="2976.9" y="284.8" width="21" height="21" fill="#000"/>
<path d="M2971.1,144.6H3003.8L2987.4,171.8Z" fill="#0000ff"/>
<path d="M2971.1,338.0H3003.8L2987.4,310.8Z" fill="#0000ff"/>
<path d="M2987.4,65.3v11 M2987.4,957.9v-11M2930.9,809.1h10.5 M3044.0,809.1h-10.5M2930.9,660.4h10.5 M3044.0,660.4h-10.5M2930.9,511.6h10.5 M3044.0,511.6h-10.5M2930.9,362.8h10.5 M3044.0,362.8h-10.5M2930.9,214.1h10.5 M3044.0,214.1h-10.5" stroke="#262626" stroke-width="3.6" fill="none"/>
<rect x="2930.9" y="65.3" width="113.1" height="892.6" fill="none" stroke="#262626" stroke-width="3.6"/>
<text transform="translate(2987.9,1001.5) scale(1,1.040)" font-size="32.4" fill="#262626" text-anchor="middle" xml:space="preserve">20  avr.</text>
<text transform="translate(2987.9,1049.6) scale(1,1.040)" font-size="32.4" fill="#262626" text-anchor="middle" xml:space="preserve">23  avr.</text>
<rect x="3096.4" y="75.4" width="45" height="361.8" fill="#ebebeb"/>
<path d="M3062.9,928.1H3175.0M3062.9,898.4H3175.0M3062.9,868.6H3175.0M3062.9,838.9H3175.0M3062.9,779.4H3175.0M3062.9,749.6H3175.0M3062.9,719.9H3175.0M3062.9,690.1H3175.0M3062.9,630.6H3175.0M3062.9,600.9H3175.0M3062.9,571.1H3175.0M3062.9,541.3H3175.0M3062.9,481.8H3175.0M3062.9,452.1H3175.0M3062.9,422.3H3175.0M3062.9,392.6H3175.0M3062.9,333.1H3175.0M3062.9,303.3H3175.0M3062.9,273.6H3175.0M3062.9,243.8H3175.0M3062.9,184.3H3175.0M3062.9,154.6H3175.0M3062.9,124.8H3175.0M3062.9,95.1H3175.0" stroke="#262626" stroke-opacity="0.165" stroke-width="4.0" stroke-dasharray="4.4 3.7" fill="none"/>
<path d="M3062.9,809.1H3175.0M3062.9,660.4H3175.0M3062.9,511.6H3175.0M3062.9,362.8H3175.0M3062.9,214.1H3175.0" stroke="#262626" stroke-opacity="0.3" stroke-width="4.0" fill="none"/>
<rect x="3096.4" y="75.4" width="45" height="361.8" fill="none" stroke="#000" stroke-width="2.2" stroke-dasharray="13.5 7.2"/>
<rect x="3108.4" y="350.2" width="21" height="21" fill="#000"/>
<path d="M3102.6,158.0H3135.2L3118.9,185.2Z" fill="#0000ff"/>
<path d="M3102.6,412.7H3135.2L3118.9,385.5Z" fill="#0000ff"/>
<path d="M3118.9,65.3v11 M3118.9,957.9v-11M3062.9,809.1h10.5 M3175.0,809.1h-10.5M3062.9,660.4h10.5 M3175.0,660.4h-10.5M3062.9,511.6h10.5 M3175.0,511.6h-10.5M3062.9,362.8h10.5 M3175.0,362.8h-10.5M3062.9,214.1h10.5 M3175.0,214.1h-10.5" stroke="#262626" stroke-width="3.6" fill="none"/>
<rect x="3062.9" y="65.3" width="112.1" height="892.6" fill="none" stroke="#262626" stroke-width="3.6"/>
<text transform="translate(3119.4,1001.5) scale(1,1.040)" font-size="32.4" fill="#262626" text-anchor="middle" xml:space="preserve">24  avr.</text>
<text transform="translate(3119.4,1049.6) scale(1,1.040)" font-size="32.4" fill="#262626" text-anchor="middle" xml:space="preserve">27  avr.</text>
<rect x="3193.8" y="65.3" width="112.3" height="892.6" fill="#b5fafc"/>
<rect x="3227.4" y="94.2" width="45" height="463.3" fill="#ebebeb"/>
<path d="M3193.8,928.1H3306.1M3193.8,898.4H3306.1M3193.8,868.6H3306.1M3193.8,838.9H3306.1M3193.8,779.4H3306.1M3193.8,749.6H3306.1M3193.8,719.9H3306.1M3193.8,690.1H3306.1M3193.8,630.6H3306.1M3193.8,600.9H3306.1M3193.8,571.1H3306.1M3193.8,541.3H3306.1M3193.8,481.8H3306.1M3193.8,452.1H3306.1M3193.8,422.3H3306.1M3193.8,392.6H3306.1M3193.8,333.1H3306.1M3193.8,303.3H3306.1M3193.8,273.6H3306.1M3193.8,243.8H3306.1M3193.8,184.3H3306.1M3193.8,154.6H3306.1M3193.8,124.8H3306.1M3193.8,95.1H3306.1" stroke="#262626" stroke-opacity="0.165" stroke-width="4.0" stroke-dasharray="4.4 3.7" fill="none"/>
<path d="M3193.8,809.1H3306.1M3193.8,660.4H3306.1M3193.8,511.6H3306.1M3193.8,362.8H3306.1M3193.8,214.1H3306.1" stroke="#262626" stroke-opacity="0.3" stroke-width="4.0" fill="none"/>
<rect x="3227.4" y="94.2" width="45" height="463.3" fill="none" stroke="#000" stroke-width="2.2" stroke-dasharray="13.5 7.2"/>
<rect x="3239.4" y="442.8" width="21" height="21" fill="#000"/>
<path d="M3233.6,166.3H3266.2L3249.9,193.5Z" fill="#0000ff"/>
<path d="M3233.6,522.1H3266.2L3249.9,494.9Z" fill="#0000ff"/>
<path d="M3249.9,65.3v11 M3249.9,957.9v-11M3193.8,809.1h10.5 M3306.1,809.1h-10.5M3193.8,660.4h10.5 M3306.1,660.4h-10.5M3193.8,511.6h10.5 M3306.1,511.6h-10.5M3193.8,362.8h10.5 M3306.1,362.8h-10.5M3193.8,214.1h10.5 M3306.1,214.1h-10.5" stroke="#262626" stroke-width="3.6" fill="none"/>
<rect x="3193.8" y="65.3" width="112.3" height="892.6" fill="none" stroke="#262626" stroke-width="3.6"/>
<text transform="translate(3250.4,1001.5) scale(1,1.040)" font-size="32.4" fill="#262626" text-anchor="middle" xml:space="preserve">28  avr.</text>
<text transform="translate(3250.4,1049.6) scale(1,1.040)" font-size="32.4" fill="#262626" text-anchor="middle" xml:space="preserve">04  mai</text>
<rect x="3358.9" y="146.2" width="45" height="536.4" fill="#ebebeb"/>
<path d="M3324.8,928.1H3438.1M3324.8,898.4H3438.1M3324.8,868.6H3438.1M3324.8,838.9H3438.1M3324.8,779.4H3438.1M3324.8,749.6H3438.1M3324.8,719.9H3438.1M3324.8,690.1H3438.1M3324.8,630.6H3438.1M3324.8,600.9H3438.1M3324.8,571.1H3438.1M3324.8,541.3H3438.1M3324.8,481.8H3438.1M3324.8,452.1H3438.1M3324.8,422.3H3438.1M3324.8,392.6H3438.1M3324.8,333.1H3438.1M3324.8,303.3H3438.1M3324.8,273.6H3438.1M3324.8,243.8H3438.1M3324.8,184.3H3438.1M3324.8,154.6H3438.1M3324.8,124.8H3438.1M3324.8,95.1H3438.1" stroke="#262626" stroke-opacity="0.165" stroke-width="4.0" stroke-dasharray="4.4 3.7" fill="none"/>
<path d="M3324.8,809.1H3438.1M3324.8,660.4H3438.1M3324.8,511.6H3438.1M3324.8,362.8H3438.1M3324.8,214.1H3438.1" stroke="#262626" stroke-opacity="0.3" stroke-width="4.0" fill="none"/>
<rect x="3358.9" y="146.2" width="45" height="536.4" fill="none" stroke="#000" stroke-width="2.2" stroke-dasharray="13.5 7.2"/>
<rect x="3370.9" y="553.8" width="21" height="21" fill="#000"/>
<path d="M3365.1,229.4H3397.8L3381.4,256.6Z" fill="#0000ff"/>
<path d="M3365.1,643.8H3397.8L3381.4,616.6Z" fill="#0000ff"/>
<path d="M3381.4,65.3v11 M3381.4,957.9v-11M3324.8,809.1h10.5 M3438.1,809.1h-10.5M3324.8,660.4h10.5 M3438.1,660.4h-10.5M3324.8,511.6h10.5 M3438.1,511.6h-10.5M3324.8,362.8h10.5 M3438.1,362.8h-10.5M3324.8,214.1h10.5 M3438.1,214.1h-10.5" stroke="#262626" stroke-width="3.6" fill="none"/>
<rect x="3324.8" y="65.3" width="113.3" height="892.6" fill="none" stroke="#262626" stroke-width="3.6"/>
<text transform="translate(3381.9,1001.5) scale(1,1.040)" font-size="32.4" fill="#262626" text-anchor="middle" xml:space="preserve">05  mai</text>
<text transform="translate(3381.9,1049.6) scale(1,1.040)" font-size="32.4" fill="#262626" text-anchor="middle" xml:space="preserve">11  mai</text>
</svg></body></html>
